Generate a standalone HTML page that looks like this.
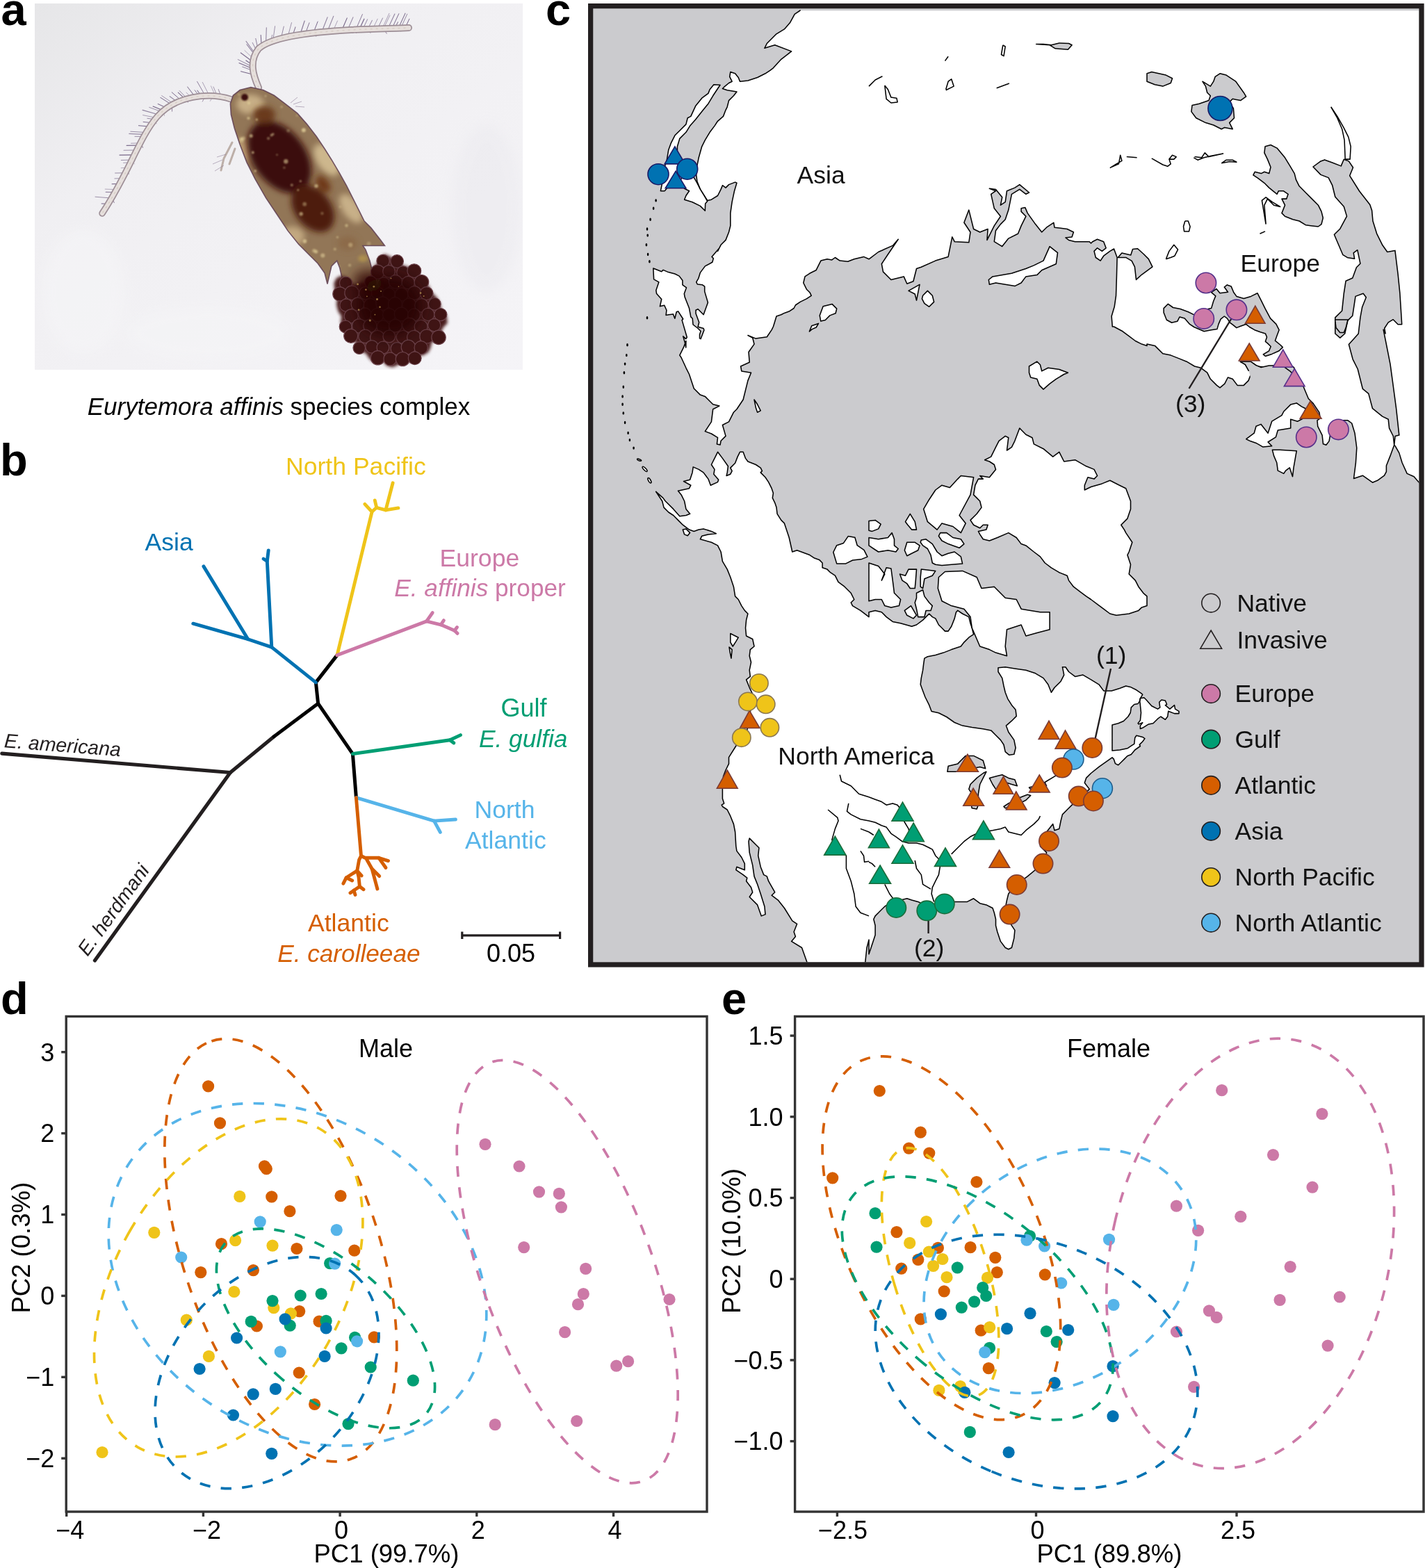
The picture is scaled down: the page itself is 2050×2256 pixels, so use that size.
<!DOCTYPE html>
<html><head><meta charset="utf-8"><title>Eurytemora affinis figure</title>
<style>html,body{margin:0;padding:0;background:#fff;}svg{display:block;}text{font-family:'Liberation Sans', Arial, Helvetica, sans-serif;}</style>
</head><body>
<svg xmlns="http://www.w3.org/2000/svg" width="2050" height="2256" viewBox="0 0 2050 2256">
<rect width="2050" height="2256" fill="#fff"/>
<defs>
<linearGradient id="pbg" x1="0" y1="0" x2="1" y2="1">
<stop offset="0" stop-color="#E6E6E8"/><stop offset="0.3" stop-color="#F0EFF2"/><stop offset="1" stop-color="#F5F4F7"/>
</linearGradient>
<filter id="bl1" x="-20%" y="-20%" width="140%" height="140%"><feGaussianBlur stdDeviation="1"/></filter>
<filter id="bl2" x="-30%" y="-30%" width="160%" height="160%"><feGaussianBlur stdDeviation="2.2"/></filter>
<filter id="bl4" x="-40%" y="-40%" width="180%" height="180%"><feGaussianBlur stdDeviation="4.5"/></filter>
<filter id="bl8" x="-50%" y="-50%" width="200%" height="200%"><feGaussianBlur stdDeviation="9"/></filter>
<clipPath id="bodyclip"><path d="M335.4 137.3 L331.4 149.1 L332.4 164.8 L337.3 184.5 L345.2 208.1 L355.0 233.6 L366.8 257.2 L382.5 284.7 L398.3 308.3 L414.0 331.9 L429.7 351.5 L445.4 367.2 L457.2 379.0 L467.0 392.8 L471.0 408.5 L476.9 383.0 L484.7 375.1 L488.6 384.9 L492.6 402.6 L498.5 414.4 L516.2 414.4 L531.9 406.5 L535.8 390.8 L531.9 375.1 L526.0 359.4 L522.0 353.5 L535.8 353.5 L553.5 353.5 L547.6 345.6 L533.8 327.9 L524.0 318.1 L516.2 302.4 L508.3 286.7 L498.5 267.0 L488.6 249.3 L476.9 229.7 L467.0 214.0 L455.2 196.3 L441.5 178.6 L427.7 162.9 L410.0 149.1 L394.3 137.3 L378.6 129.5 L360.9 125.5 L345.2 129.5 Z"/></clipPath>
<clipPath id="eggclip"><path d="M553.7 365.8 L563.3 370.0 L570.5 376.0 L580.1 382.0 L592.1 385.6 L600.5 392.8 L608.9 404.8 L617.3 412.1 L619.7 419.3 L628.1 427.7 L632.9 436.1 L635.3 448.1 L642.5 454.1 L643.7 464.9 L637.7 470.9 L635.3 475.7 L634.1 484.1 L628.1 490.1 L620.9 492.5 L619.7 499.7 L616.1 506.9 L607.7 511.7 L600.5 510.5 L596.9 516.5 L589.7 521.3 L580.1 518.9 L572.9 524.9 L564.5 528.5 L556.1 526.1 L550.1 518.9 L544.1 521.3 L535.7 520.1 L530.9 515.3 L526.1 508.1 L517.6 505.7 L512.8 499.7 L511.6 492.5 L505.6 486.5 L502.0 476.9 L493.6 472.1 L490.0 463.7 L491.2 455.3 L486.4 448.1 L484.0 438.5 L485.2 426.5 L481.6 419.3 L480.4 407.3 L484.0 400.0 L491.2 396.4 L498.4 398.8 L504.4 404.8 L510.4 409.7 L516.4 407.3 L521.2 406.1 L527.3 407.3 L532.1 406.1 L536.9 397.6 L535.7 390.4 L539.3 383.2 L544.1 377.2 L546.5 370.0 Z"/></clipPath>
<clipPath id="photoclip"><rect x="50" y="5" width="702" height="527"/></clipPath>
</defs>
<g clip-path="url(#photoclip)">
<rect x="50" y="5" width="702" height="527" fill="url(#pbg)"/>
<g filter="url(#bl8)" opacity="0.5"><ellipse cx="120" cy="420" rx="60" ry="90" fill="#F6F6F8"/><ellipse cx="700" cy="300" rx="50" ry="120" fill="#EAE9EE"/><ellipse cx="300" cy="480" rx="120" ry="40" fill="#F5F5F7"/></g>
<g fill="none"><path d="M317.5 137.2 L314.2 128.6" stroke="#5E4A72" stroke-width="1.03" stroke-linecap="round" opacity="0.58"/><path d="M311.9 136.5 L307.0 124.9" stroke="#5E4A72" stroke-width="0.73" stroke-linecap="round" opacity="0.73"/><path d="M309.0 136.2 L303.5 123.8" stroke="#5E4A72" stroke-width="0.73" stroke-linecap="round" opacity="0.58"/><path d="M300.2 135.9 L291.3 118.4" stroke="#5E4A72" stroke-width="0.76" stroke-linecap="round" opacity="0.63"/><path d="M294.3 136.0 L283.6 117.3" stroke="#5E4A72" stroke-width="0.99" stroke-linecap="round" opacity="0.69"/><path d="M288.4 136.4 L283.8 130.2" stroke="#5E4A72" stroke-width="1.13" stroke-linecap="round" opacity="0.65"/><path d="M285.4 136.7 L280.1 129.7" stroke="#5E4A72" stroke-width="0.85" stroke-linecap="round" opacity="0.84"/><path d="M279.4 137.6 L269.7 125.0" stroke="#5E4A72" stroke-width="1.02" stroke-linecap="round" opacity="0.68"/><path d="M273.5 138.8 L268.0 133.1" stroke="#5E4A72" stroke-width="0.73" stroke-linecap="round" opacity="0.62"/><path d="M267.7 140.3 L258.2 130.6" stroke="#5E4A72" stroke-width="0.86" stroke-linecap="round" opacity="0.75"/><path d="M264.8 141.2 L256.3 133.2" stroke="#5E4A72" stroke-width="1.10" stroke-linecap="round" opacity="0.79"/><path d="M259.1 143.2 L247.2 132.8" stroke="#5E4A72" stroke-width="0.96" stroke-linecap="round" opacity="0.86"/><path d="M253.5 145.5 L244.3 138.7" stroke="#5E4A72" stroke-width="1.19" stroke-linecap="round" opacity="0.59"/><path d="M248.1 148.1 L232.7 137.7" stroke="#5E4A72" stroke-width="0.78" stroke-linecap="round" opacity="0.72"/><path d="M245.4 149.6 L230.9 140.4" stroke="#5E4A72" stroke-width="1.08" stroke-linecap="round" opacity="0.75"/><path d="M237.9 154.5 L227.2 149.5" stroke="#5E4A72" stroke-width="1.05" stroke-linecap="round" opacity="0.76"/><path d="M233.1 158.2 L220.1 153.1" stroke="#5E4A72" stroke-width="1.12" stroke-linecap="round" opacity="0.88"/><path d="M230.8 160.2 L214.7 154.4" stroke="#5E4A72" stroke-width="0.73" stroke-linecap="round" opacity="0.80"/><path d="M226.5 164.5 L205.1 158.4" stroke="#5E4A72" stroke-width="1.11" stroke-linecap="round" opacity="0.65"/><path d="M222.5 169.0 L205.6 165.6" stroke="#5E4A72" stroke-width="0.71" stroke-linecap="round" opacity="0.71"/><path d="M220.6 171.5 L211.9 170.3" stroke="#5E4A72" stroke-width="0.73" stroke-linecap="round" opacity="0.82"/><path d="M216.8 176.5 L206.1 175.4" stroke="#5E4A72" stroke-width="0.90" stroke-linecap="round" opacity="0.85"/><path d="M213.2 181.9 L199.4 180.7" stroke="#5E4A72" stroke-width="0.97" stroke-linecap="round" opacity="0.86"/><path d="M208.0 190.4 L187.8 189.2" stroke="#5E4A72" stroke-width="0.84" stroke-linecap="round" opacity="0.70"/><path d="M206.3 193.4 L185.8 192.4" stroke="#5E4A72" stroke-width="1.18" stroke-linecap="round" opacity="0.60"/><path d="M204.6 196.4 L194.0 196.4" stroke="#5E4A72" stroke-width="0.82" stroke-linecap="round" opacity="0.72"/><path d="M199.5 205.9 L188.5 206.2" stroke="#5E4A72" stroke-width="0.70" stroke-linecap="round" opacity="0.70"/><path d="M197.8 209.2 L182.1 209.3" stroke="#5E4A72" stroke-width="1.18" stroke-linecap="round" opacity="0.79"/><path d="M194.4 216.0 L178.0 216.2" stroke="#5E4A72" stroke-width="1.04" stroke-linecap="round" opacity="0.57"/><path d="M191.0 222.9 L172.0 223.1" stroke="#5E4A72" stroke-width="1.14" stroke-linecap="round" opacity="0.83"/><path d="M187.4 230.1 L174.3 230.5" stroke="#5E4A72" stroke-width="0.75" stroke-linecap="round" opacity="0.77"/><path d="M185.6 233.8 L177.6 234.3" stroke="#5E4A72" stroke-width="0.80" stroke-linecap="round" opacity="0.61"/><path d="M181.9 241.2 L174.2 241.7" stroke="#5E4A72" stroke-width="0.70" stroke-linecap="round" opacity="0.60"/><path d="M178.1 248.8 L165.6 249.0" stroke="#5E4A72" stroke-width="0.71" stroke-linecap="round" opacity="0.86"/><path d="M174.1 256.6 L164.9 256.9" stroke="#5E4A72" stroke-width="0.83" stroke-linecap="round" opacity="0.67"/><path d="M170.0 264.5 L161.1 264.7" stroke="#5E4A72" stroke-width="1.12" stroke-linecap="round" opacity="0.90"/><path d="M165.6 272.6 L151.2 272.1" stroke="#5E4A72" stroke-width="0.74" stroke-linecap="round" opacity="0.59"/><path d="M163.3 276.6 L152.2 276.4" stroke="#5E4A72" stroke-width="1.11" stroke-linecap="round" opacity="0.61"/><path d="M158.5 284.9 L137.0 283.2" stroke="#5E4A72" stroke-width="0.96" stroke-linecap="round" opacity="0.60"/><path d="M153.5 293.2 L146.1 293.0" stroke="#5E4A72" stroke-width="0.96" stroke-linecap="round" opacity="0.89"/><path d="M305.9 140.0 L302.3 145.4" stroke="#8A7894" stroke-width="0.83" stroke-linecap="round" opacity="0.68"/><path d="M294.5 140.0 L291.3 146.0" stroke="#8A7894" stroke-width="0.97" stroke-linecap="round" opacity="0.82"/><path d="M271.6 143.4 L270.2 147.0" stroke="#8A7894" stroke-width="1.11" stroke-linecap="round" opacity="0.89"/><path d="M247.5 153.0 L247.5 160.1" stroke="#8A7894" stroke-width="1.11" stroke-linecap="round" opacity="0.81"/><path d="M235.7 161.2 L236.5 166.6" stroke="#8A7894" stroke-width="0.88" stroke-linecap="round" opacity="0.56"/><path d="M223.8 173.9 L225.0 177.9" stroke="#8A7894" stroke-width="0.83" stroke-linecap="round" opacity="0.79"/><path d="M203.1 207.8 L205.5 212.2" stroke="#8A7894" stroke-width="1.17" stroke-linecap="round" opacity="0.90"/><path d="M191.0 231.9 L193.3 235.9" stroke="#8A7894" stroke-width="0.81" stroke-linecap="round" opacity="0.63"/><path d="M183.6 246.8 L185.3 250.2" stroke="#8A7894" stroke-width="1.01" stroke-linecap="round" opacity="0.87"/><path d="M162.0 286.9 L164.3 291.6" stroke="#8A7894" stroke-width="1.03" stroke-linecap="round" opacity="0.83"/><path d="M363.2 107.0 L346.6 102.7" stroke="#5E4A72" stroke-width="1.15" stroke-linecap="round" opacity="0.82"/><path d="M362.1 101.1 L348.7 96.1" stroke="#5E4A72" stroke-width="0.79" stroke-linecap="round" opacity="0.83"/><path d="M361.8 98.1 L344.0 90.6" stroke="#5E4A72" stroke-width="1.19" stroke-linecap="round" opacity="0.69"/><path d="M361.6 95.2 L342.3 85.6" stroke="#5E4A72" stroke-width="1.06" stroke-linecap="round" opacity="0.61"/><path d="M361.7 92.2 L353.8 87.1" stroke="#5E4A72" stroke-width="1.15" stroke-linecap="round" opacity="0.83"/><path d="M362.1 87.7 L346.3 76.0" stroke="#5E4A72" stroke-width="1.19" stroke-linecap="round" opacity="0.78"/><path d="M363.1 83.2 L351.9 72.6" stroke="#5E4A72" stroke-width="0.77" stroke-linecap="round" opacity="0.55"/><path d="M365.2 77.4 L354.9 63.9" stroke="#5E4A72" stroke-width="0.96" stroke-linecap="round" opacity="0.88"/><path d="M365.9 75.9 L354.0 59.4" stroke="#5E4A72" stroke-width="1.11" stroke-linecap="round" opacity="0.62"/><path d="M368.4 71.6 L363.2 61.4" stroke="#5E4A72" stroke-width="0.82" stroke-linecap="round" opacity="0.76"/><path d="M370.7 68.5 L367.8 55.4" stroke="#5E4A72" stroke-width="0.77" stroke-linecap="round" opacity="0.87"/><path d="M376.1 64.4 L375.2 50.5" stroke="#5E4A72" stroke-width="0.99" stroke-linecap="round" opacity="0.87"/><path d="M382.6 60.9 L383.3 39.8" stroke="#5E4A72" stroke-width="0.95" stroke-linecap="round" opacity="0.74"/><path d="M390.1 57.7 L391.5 50.5" stroke="#5E4A72" stroke-width="0.92" stroke-linecap="round" opacity="0.61"/><path d="M392.9 56.7 L395.6 37.7" stroke="#5E4A72" stroke-width="0.79" stroke-linecap="round" opacity="0.72"/><path d="M404.7 53.2 L408.3 38.1" stroke="#5E4A72" stroke-width="0.86" stroke-linecap="round" opacity="0.73"/><path d="M414.5 50.9 L419.5 32.6" stroke="#5E4A72" stroke-width="0.75" stroke-linecap="round" opacity="0.75"/><path d="M421.5 49.5 L425.0 38.9" stroke="#5E4A72" stroke-width="1.09" stroke-linecap="round" opacity="0.73"/><path d="M432.4 47.7 L438.2 30.0" stroke="#5E4A72" stroke-width="1.16" stroke-linecap="round" opacity="0.71"/><path d="M439.9 46.6 L445.0 32.8" stroke="#5E4A72" stroke-width="0.96" stroke-linecap="round" opacity="0.79"/><path d="M451.6 45.2 L457.1 31.1" stroke="#5E4A72" stroke-width="0.94" stroke-linecap="round" opacity="0.88"/><path d="M463.6 44.0 L471.1 24.9" stroke="#5E4A72" stroke-width="1.17" stroke-linecap="round" opacity="0.64"/><path d="M471.8 43.2 L479.8 23.3" stroke="#5E4A72" stroke-width="1.12" stroke-linecap="round" opacity="0.60"/><path d="M480.0 42.6 L485.5 30.0" stroke="#5E4A72" stroke-width="0.74" stroke-linecap="round" opacity="0.63"/><path d="M492.5 41.7 L499.3 25.9" stroke="#5E4A72" stroke-width="1.09" stroke-linecap="round" opacity="0.86"/><path d="M500.8 41.2 L508.0 24.8" stroke="#5E4A72" stroke-width="1.03" stroke-linecap="round" opacity="0.60"/><path d="M512.7 40.6 L521.4 20.6" stroke="#5E4A72" stroke-width="0.81" stroke-linecap="round" opacity="0.88"/><path d="M517.8 40.3 L523.9 27.2" stroke="#5E4A72" stroke-width="1.19" stroke-linecap="round" opacity="0.84"/><path d="M522.8 40.1 L528.6 27.8" stroke="#5E4A72" stroke-width="0.96" stroke-linecap="round" opacity="0.67"/><path d="M530.1 39.8 L535.4 29.2" stroke="#5E4A72" stroke-width="1.06" stroke-linecap="round" opacity="0.56"/><path d="M537.2 39.6 L543.2 27.2" stroke="#5E4A72" stroke-width="0.71" stroke-linecap="round" opacity="0.67"/><path d="M544.1 39.4 L550.5 26.0" stroke="#5E4A72" stroke-width="0.73" stroke-linecap="round" opacity="0.89"/><path d="M550.7 39.2 L559.9 19.3" stroke="#5E4A72" stroke-width="0.75" stroke-linecap="round" opacity="0.64"/><path d="M552.8 39.1 L560.9 22.0" stroke="#5E4A72" stroke-width="0.84" stroke-linecap="round" opacity="0.60"/><path d="M559.0 39.0 L567.9 20.0" stroke="#5E4A72" stroke-width="1.11" stroke-linecap="round" opacity="0.64"/><path d="M564.9 38.8 L573.8 19.7" stroke="#5E4A72" stroke-width="0.99" stroke-linecap="round" opacity="0.80"/><path d="M568.7 38.7 L572.5 31.8" stroke="#5E4A72" stroke-width="1.04" stroke-linecap="round" opacity="0.70"/><path d="M574.0 38.6 L583.0 19.1" stroke="#5E4A72" stroke-width="1.02" stroke-linecap="round" opacity="0.83"/><path d="M577.4 38.5 L585.8 20.2" stroke="#5E4A72" stroke-width="0.73" stroke-linecap="round" opacity="0.85"/><path d="M583.7 38.2 L588.9 27.2" stroke="#5E4A72" stroke-width="0.98" stroke-linecap="round" opacity="0.87"/><path d="M366.8 104.7 L368.1 102.8" stroke="#8A7894" stroke-width="0.96" stroke-linecap="round" opacity="0.63"/><path d="M365.7 91.1 L367.7 89.6" stroke="#8A7894" stroke-width="0.73" stroke-linecap="round" opacity="0.62"/><path d="M370.9 75.2 L374.1 74.8" stroke="#8A7894" stroke-width="1.08" stroke-linecap="round" opacity="0.65"/><path d="M389.0 62.4 L391.3 63.6" stroke="#8A7894" stroke-width="0.87" stroke-linecap="round" opacity="0.56"/><path d="M415.3 54.8 L416.9 55.6" stroke="#8A7894" stroke-width="1.07" stroke-linecap="round" opacity="0.74"/><path d="M452.0 49.2 L454.8 52.3" stroke="#8A7894" stroke-width="1.17" stroke-linecap="round" opacity="0.59"/><path d="M510.3 44.7 L512.8 47.7" stroke="#8A7894" stroke-width="0.95" stroke-linecap="round" opacity="0.84"/><path d="M530.3 43.8 L532.9 47.3" stroke="#8A7894" stroke-width="1.04" stroke-linecap="round" opacity="0.89"/><path d="M552.9 43.1 L556.3 48.2" stroke="#8A7894" stroke-width="1.05" stroke-linecap="round" opacity="0.77"/><path d="M574.2 42.6 L576.4 45.2" stroke="#8A7894" stroke-width="0.73" stroke-linecap="round" opacity="0.60"/></g>
<path d="M333 143 C300 132 252 138 226 168 C200 198 185 250 147 307" fill="none" stroke="#9D8E96" stroke-width="9.5" stroke-linecap="round"/>
<path d="M333 143 C300 132 252 138 226 168 C200 198 185 250 147 307" fill="none" stroke="#E6DFDC" stroke-width="6.1" stroke-linecap="round"/>
<path d="M333 143 C300 132 252 138 226 168 C200 198 185 250 147 307" fill="none" stroke="#CFC3B8" stroke-width="1.2" stroke-dasharray="3 5" opacity="0.7"/>
<path d="M372 126 C364 108 358 88 372 70 C392 52 450 46 505 43 C540 41 570 41 588 40" fill="none" stroke="#9D8E96" stroke-width="10" stroke-linecap="round"/>
<path d="M372 126 C364 108 358 88 372 70 C392 52 450 46 505 43 C540 41 570 41 588 40" fill="none" stroke="#E6DFDC" stroke-width="6.6" stroke-linecap="round"/>
<path d="M372 126 C364 108 358 88 372 70 C392 52 450 46 505 43 C540 41 570 41 588 40" fill="none" stroke="#CFC3B8" stroke-width="1.2" stroke-dasharray="3 5" opacity="0.7"/>
<g stroke="#B4A49C" stroke-width="3" fill="none" stroke-linecap="round" opacity="0.85"><path d="M334 205 L322 228 L318 245"/><path d="M338 214 L330 236"/></g>
<g stroke="#8A7894" stroke-width="0.8" fill="none" opacity="0.7"><path d="M320 230 L306 236"/><path d="M322 238 L309 246"/><path d="M325 222 L312 226"/><path d="M418 148 L428 140"/><path d="M422 150 L434 146"/><path d="M425 153 L438 154"/></g>
<path d="M335.4 137.3 L331.4 149.1 L332.4 164.8 L337.3 184.5 L345.2 208.1 L355.0 233.6 L366.8 257.2 L382.5 284.7 L398.3 308.3 L414.0 331.9 L429.7 351.5 L445.4 367.2 L457.2 379.0 L467.0 392.8 L471.0 408.5 L476.9 383.0 L484.7 375.1 L488.6 384.9 L492.6 402.6 L498.5 414.4 L516.2 414.4 L531.9 406.5 L535.8 390.8 L531.9 375.1 L526.0 359.4 L522.0 353.5 L535.8 353.5 L553.5 353.5 L547.6 345.6 L533.8 327.9 L524.0 318.1 L516.2 302.4 L508.3 286.7 L498.5 267.0 L488.6 249.3 L476.9 229.7 L467.0 214.0 L455.2 196.3 L441.5 178.6 L427.7 162.9 L410.0 149.1 L394.3 137.3 L378.6 129.5 L360.9 125.5 L345.2 129.5 Z" fill="#927657"/>
<g clip-path="url(#bodyclip)">
<g filter="url(#bl4)"><ellipse cx="360" cy="150" rx="20" ry="14" fill="#C7AF86"/><ellipse cx="470" cy="230" rx="14" ry="26" transform="rotate(-35 470 230)" fill="#CDB78D"/><ellipse cx="505" cy="300" rx="12" ry="24" transform="rotate(-35 505 300)" fill="#C8B088"/><ellipse cx="420" cy="340" rx="18" ry="14" fill="#C2A880"/><ellipse cx="350" cy="215" rx="9" ry="18" transform="rotate(-25 350 215)" fill="#B99A70"/></g>
<g filter="url(#bl4)"><ellipse cx="402" cy="226" rx="38" ry="58" transform="rotate(-36 402 226)" fill="#3B0E07"/><ellipse cx="450" cy="300" rx="26" ry="38" transform="rotate(-38 450 300)" fill="#4E1C0C"/><ellipse cx="380" cy="165" rx="16" ry="12" fill="#6A3A1A"/><ellipse cx="465" cy="265" rx="8" ry="14" transform="rotate(-38 465 265)" fill="#6E3818"/><ellipse cx="500" cy="350" rx="14" ry="10" fill="#8C6A48"/></g>
<g filter="url(#bl1)"><circle cx="349.5" cy="322.6" r="1.7" fill="#E6D49C" opacity="0.37"/><circle cx="352.3" cy="348.7" r="2.9" fill="#E6D49C" opacity="0.60"/><circle cx="392.8" cy="193.0" r="1.8" fill="#E6D49C" opacity="0.51"/><circle cx="367.3" cy="245.9" r="1.7" fill="#E6D49C" opacity="0.73"/><circle cx="534.4" cy="272.2" r="1.7" fill="#E6D49C" opacity="0.73"/><circle cx="398.5" cy="222.7" r="1.2" fill="#E6D49C" opacity="0.47"/><circle cx="432.3" cy="260.7" r="1.6" fill="#E6D49C" opacity="0.53"/><circle cx="336.0" cy="198.7" r="1.4" fill="#E6D49C" opacity="0.48"/><circle cx="343.5" cy="135.8" r="1.8" fill="#E6D49C" opacity="0.40"/><circle cx="455.0" cy="267.6" r="2.7" fill="#E6D49C" opacity="0.60"/><circle cx="481.8" cy="358.6" r="2.0" fill="#E6D49C" opacity="0.45"/><circle cx="536.9" cy="168.9" r="2.6" fill="#E6D49C" opacity="0.59"/><circle cx="344.0" cy="347.2" r="3.0" fill="#E6D49C" opacity="0.58"/><circle cx="485.4" cy="341.2" r="1.5" fill="#E6D49C" opacity="0.54"/><circle cx="438.4" cy="347.1" r="2.8" fill="#E6D49C" opacity="0.67"/><circle cx="454.7" cy="362.1" r="2.6" fill="#E6D49C" opacity="0.61"/><circle cx="382.1" cy="138.1" r="1.5" fill="#E6D49C" opacity="0.46"/><circle cx="356.5" cy="347.3" r="2.3" fill="#E6D49C" opacity="0.58"/><circle cx="463.4" cy="307.0" r="2.2" fill="#E6D49C" opacity="0.30"/><circle cx="498.5" cy="324.5" r="2.2" fill="#E6D49C" opacity="0.54"/><circle cx="470.2" cy="147.2" r="2.7" fill="#E6D49C" opacity="0.41"/><circle cx="350.3" cy="199.0" r="2.7" fill="#E6D49C" opacity="0.39"/><circle cx="486.7" cy="383.7" r="2.2" fill="#E6D49C" opacity="0.47"/><circle cx="433.2" cy="307.8" r="2.7" fill="#E6D49C" opacity="0.58"/><circle cx="466.8" cy="150.1" r="1.5" fill="#E6D49C" opacity="0.41"/><circle cx="487.4" cy="209.1" r="2.3" fill="#E6D49C" opacity="0.31"/><circle cx="347.4" cy="199.9" r="2.5" fill="#E6D49C" opacity="0.61"/><circle cx="473.5" cy="205.6" r="2.2" fill="#E6D49C" opacity="0.51"/><circle cx="430.6" cy="160.8" r="3.0" fill="#E6D49C" opacity="0.39"/><circle cx="535.5" cy="373.4" r="1.2" fill="#E6D49C" opacity="0.51"/><circle cx="503.1" cy="381.7" r="2.1" fill="#E6D49C" opacity="0.42"/><circle cx="378.0" cy="375.9" r="1.6" fill="#E6D49C" opacity="0.56"/><circle cx="364.1" cy="266.3" r="3.1" fill="#E6D49C" opacity="0.36"/><circle cx="503.1" cy="262.3" r="3.0" fill="#E6D49C" opacity="0.62"/><circle cx="382.4" cy="363.4" r="2.2" fill="#E6D49C" opacity="0.31"/><circle cx="335.7" cy="257.8" r="2.1" fill="#E6D49C" opacity="0.44"/><circle cx="363.8" cy="219.4" r="1.8" fill="#E6D49C" opacity="0.68"/><circle cx="335.4" cy="325.2" r="2.9" fill="#E6D49C" opacity="0.35"/><circle cx="524.9" cy="315.4" r="3.0" fill="#E6D49C" opacity="0.43"/><circle cx="411.3" cy="232.2" r="3.2" fill="#E6D49C" opacity="0.57"/><circle cx="408.9" cy="241.3" r="1.8" fill="#E6D49C" opacity="0.32"/><circle cx="355.9" cy="347.0" r="1.8" fill="#E6D49C" opacity="0.72"/><circle cx="386.1" cy="199.1" r="2.2" fill="#E6D49C" opacity="0.39"/><circle cx="411.5" cy="378.6" r="3.0" fill="#E6D49C" opacity="0.67"/><circle cx="464.3" cy="367.5" r="3.1" fill="#E6D49C" opacity="0.55"/><circle cx="482.5" cy="142.9" r="2.7" fill="#E6D49C" opacity="0.50"/><circle cx="489.3" cy="297.6" r="1.8" fill="#E6D49C" opacity="0.32"/><circle cx="525.0" cy="163.1" r="2.1" fill="#E6D49C" opacity="0.45"/><circle cx="396.0" cy="322.1" r="3.2" fill="#E6D49C" opacity="0.42"/><circle cx="469.5" cy="208.2" r="2.3" fill="#E6D49C" opacity="0.48"/><circle cx="369.3" cy="172.0" r="1.6" fill="#E6D49C" opacity="0.71"/><circle cx="436.9" cy="187.2" r="3.0" fill="#E6D49C" opacity="0.75"/><circle cx="427.2" cy="166.3" r="1.6" fill="#E6D49C" opacity="0.34"/><circle cx="405.1" cy="153.7" r="1.7" fill="#E6D49C" opacity="0.42"/><circle cx="451.8" cy="360.7" r="2.7" fill="#E6D49C" opacity="0.49"/><circle cx="419.8" cy="266.3" r="2.0" fill="#E6D49C" opacity="0.45"/><circle cx="347.7" cy="202.2" r="3.1" fill="#E6D49C" opacity="0.36"/><circle cx="438.2" cy="293.7" r="2.9" fill="#E6D49C" opacity="0.40"/><circle cx="390.6" cy="194.6" r="2.0" fill="#E6D49C" opacity="0.50"/><circle cx="530.6" cy="350.7" r="2.9" fill="#E6D49C" opacity="0.31"/><circle cx="341.6" cy="314.5" r="3.0" fill="#E6D49C" opacity="0.51"/><circle cx="455.4" cy="130.0" r="2.0" fill="#E6D49C" opacity="0.72"/><circle cx="504.2" cy="352.4" r="3.1" fill="#E6D49C" opacity="0.41"/><circle cx="357.4" cy="170.1" r="2.2" fill="#E6D49C" opacity="0.61"/><circle cx="528.0" cy="317.7" r="2.5" fill="#E6D49C" opacity="0.64"/><circle cx="428.8" cy="273.4" r="1.3" fill="#E6D49C" opacity="0.65"/><circle cx="382.7" cy="369.2" r="2.5" fill="#E6D49C" opacity="0.44"/><circle cx="361.2" cy="195.5" r="2.5" fill="#E6D49C" opacity="0.61"/><circle cx="358.0" cy="148.3" r="2.2" fill="#E6D49C" opacity="0.56"/><circle cx="414.6" cy="188.1" r="2.4" fill="#E6D49C" opacity="0.30"/></g>
</g>
<path d="M335.4 137.3 L331.4 149.1 L332.4 164.8 L337.3 184.5 L345.2 208.1 L355.0 233.6 L366.8 257.2 L382.5 284.7 L398.3 308.3 L414.0 331.9 L429.7 351.5 L445.4 367.2 L457.2 379.0 L467.0 392.8 L471.0 408.5 L476.9 383.0 L484.7 375.1 L488.6 384.9 L492.6 402.6 L498.5 414.4 L516.2 414.4 L531.9 406.5 L535.8 390.8 L531.9 375.1 L526.0 359.4 L522.0 353.5 L535.8 353.5 L553.5 353.5 L547.6 345.6 L533.8 327.9 L524.0 318.1 L516.2 302.4 L508.3 286.7 L498.5 267.0 L488.6 249.3 L476.9 229.7 L467.0 214.0 L455.2 196.3 L441.5 178.6 L427.7 162.9 L410.0 149.1 L394.3 137.3 L378.6 129.5 L360.9 125.5 L345.2 129.5 Z" fill="none" stroke="#5F3E52" stroke-width="1.6" opacity="0.85"/>
<circle cx="352" cy="140" r="5" fill="#3A0E0C" filter="url(#bl1)"/>
<path d="M553.7 365.8 L563.3 370.0 L570.5 376.0 L580.1 382.0 L592.1 385.6 L600.5 392.8 L608.9 404.8 L617.3 412.1 L619.7 419.3 L628.1 427.7 L632.9 436.1 L635.3 448.1 L642.5 454.1 L643.7 464.9 L637.7 470.9 L635.3 475.7 L634.1 484.1 L628.1 490.1 L620.9 492.5 L619.7 499.7 L616.1 506.9 L607.7 511.7 L600.5 510.5 L596.9 516.5 L589.7 521.3 L580.1 518.9 L572.9 524.9 L564.5 528.5 L556.1 526.1 L550.1 518.9 L544.1 521.3 L535.7 520.1 L530.9 515.3 L526.1 508.1 L517.6 505.7 L512.8 499.7 L511.6 492.5 L505.6 486.5 L502.0 476.9 L493.6 472.1 L490.0 463.7 L491.2 455.3 L486.4 448.1 L484.0 438.5 L485.2 426.5 L481.6 419.3 L480.4 407.3 L484.0 400.0 L491.2 396.4 L498.4 398.8 L504.4 404.8 L510.4 409.7 L516.4 407.3 L521.2 406.1 L527.3 407.3 L532.1 406.1 L536.9 397.6 L535.7 390.4 L539.3 383.2 L544.1 377.2 L546.5 370.0 Z" fill="#4A1E1E" stroke="none" filter="url(#bl2)"/>
<g><circle cx="551.1" cy="375.5" r="9.2" fill="#3F1414" stroke="#6A4048" stroke-width="1.2"/><circle cx="571.1" cy="376.0" r="9.3" fill="#3F1414" stroke="#6A4048" stroke-width="1.2"/><circle cx="543.4" cy="391.1" r="10.0" fill="#3F1414" stroke="#6A4048" stroke-width="1.2"/><circle cx="559.5" cy="390.4" r="8.8" fill="#3F1414" stroke="#6A4048" stroke-width="1.2"/><circle cx="579.7" cy="391.8" r="9.0" fill="#3F1414" stroke="#6A4048" stroke-width="1.2"/><circle cx="595.8" cy="389.7" r="9.9" fill="#3F1414" stroke="#6A4048" stroke-width="1.2"/><circle cx="497.5" cy="407.3" r="9.1" fill="#3F1414" stroke="#6A4048" stroke-width="1.2"/><circle cx="533.4" cy="406.0" r="8.8" fill="#3F1414" stroke="#6A4048" stroke-width="1.2"/><circle cx="552.2" cy="408.0" r="8.8" fill="#3F1414" stroke="#6A4048" stroke-width="1.2"/><circle cx="568.9" cy="405.3" r="9.6" fill="#3F1414" stroke="#6A4048" stroke-width="1.2"/><circle cx="587.3" cy="406.5" r="9.2" fill="#3F1414" stroke="#6A4048" stroke-width="1.2"/><circle cx="606.4" cy="405.8" r="10.3" fill="#3F1414" stroke="#6A4048" stroke-width="1.2"/><circle cx="488.9" cy="423.0" r="10.1" fill="#3F1414" stroke="#6A4048" stroke-width="1.2"/><circle cx="506.1" cy="421.4" r="10.3" fill="#3F1414" stroke="#6A4048" stroke-width="1.2"/><circle cx="525.6" cy="421.8" r="9.1" fill="#3F1414" stroke="#6A4048" stroke-width="1.2"/><circle cx="543.2" cy="421.5" r="8.8" fill="#3F1414" stroke="#6A4048" stroke-width="1.2"/><circle cx="559.4" cy="423.1" r="8.9" fill="#3F1414" stroke="#6A4048" stroke-width="1.2"/><circle cx="577.7" cy="423.7" r="9.5" fill="#3F1414" stroke="#6A4048" stroke-width="1.2"/><circle cx="596.3" cy="421.4" r="9.8" fill="#3F1414" stroke="#6A4048" stroke-width="1.2"/><circle cx="613.6" cy="422.1" r="9.4" fill="#3F1414" stroke="#6A4048" stroke-width="1.2"/><circle cx="498.0" cy="439.2" r="9.1" fill="#3F1414" stroke="#6A4048" stroke-width="1.2"/><circle cx="514.5" cy="437.6" r="9.4" fill="#3F1414" stroke="#6A4048" stroke-width="1.2"/><circle cx="532.8" cy="439.3" r="9.7" fill="#3F1414" stroke="#6A4048" stroke-width="1.2"/><circle cx="550.6" cy="436.6" r="9.8" fill="#3F1414" stroke="#6A4048" stroke-width="1.2"/><circle cx="568.4" cy="437.6" r="9.9" fill="#3F1414" stroke="#6A4048" stroke-width="1.2"/><circle cx="589.0" cy="439.1" r="10.1" fill="#3F1414" stroke="#6A4048" stroke-width="1.2"/><circle cx="606.5" cy="439.4" r="9.8" fill="#3F1414" stroke="#6A4048" stroke-width="1.2"/><circle cx="625.2" cy="437.4" r="8.9" fill="#3F1414" stroke="#6A4048" stroke-width="1.2"/><circle cx="505.2" cy="454.8" r="10.0" fill="#3F1414" stroke="#6A4048" stroke-width="1.2"/><circle cx="524.9" cy="452.1" r="9.2" fill="#3F1414" stroke="#6A4048" stroke-width="1.2"/><circle cx="542.7" cy="453.1" r="9.6" fill="#3F1414" stroke="#6A4048" stroke-width="1.2"/><circle cx="559.9" cy="453.0" r="9.3" fill="#3F1414" stroke="#6A4048" stroke-width="1.2"/><circle cx="577.3" cy="452.0" r="9.9" fill="#3F1414" stroke="#6A4048" stroke-width="1.2"/><circle cx="595.7" cy="453.0" r="9.0" fill="#3F1414" stroke="#6A4048" stroke-width="1.2"/><circle cx="615.8" cy="452.4" r="9.1" fill="#3F1414" stroke="#6A4048" stroke-width="1.2"/><circle cx="633.8" cy="452.6" r="9.1" fill="#3F1414" stroke="#6A4048" stroke-width="1.2"/><circle cx="497.1" cy="470.0" r="8.9" fill="#3F1414" stroke="#6A4048" stroke-width="1.2"/><circle cx="516.6" cy="468.9" r="10.1" fill="#3F1414" stroke="#6A4048" stroke-width="1.2"/><circle cx="532.3" cy="469.0" r="9.6" fill="#3F1414" stroke="#6A4048" stroke-width="1.2"/><circle cx="551.3" cy="470.3" r="9.2" fill="#3F1414" stroke="#6A4048" stroke-width="1.2"/><circle cx="568.8" cy="468.7" r="9.3" fill="#3F1414" stroke="#6A4048" stroke-width="1.2"/><circle cx="589.0" cy="467.7" r="10.3" fill="#3F1414" stroke="#6A4048" stroke-width="1.2"/><circle cx="605.6" cy="470.0" r="9.5" fill="#3F1414" stroke="#6A4048" stroke-width="1.2"/><circle cx="624.7" cy="467.7" r="9.1" fill="#3F1414" stroke="#6A4048" stroke-width="1.2"/><circle cx="504.7" cy="483.3" r="10.0" fill="#3F1414" stroke="#6A4048" stroke-width="1.2"/><circle cx="525.4" cy="483.9" r="9.7" fill="#3F1414" stroke="#6A4048" stroke-width="1.2"/><circle cx="542.9" cy="485.8" r="10.3" fill="#3F1414" stroke="#6A4048" stroke-width="1.2"/><circle cx="559.8" cy="484.0" r="8.9" fill="#3F1414" stroke="#6A4048" stroke-width="1.2"/><circle cx="579.7" cy="485.0" r="9.5" fill="#3F1414" stroke="#6A4048" stroke-width="1.2"/><circle cx="595.6" cy="485.3" r="10.0" fill="#3F1414" stroke="#6A4048" stroke-width="1.2"/><circle cx="613.8" cy="484.0" r="10.0" fill="#3F1414" stroke="#6A4048" stroke-width="1.2"/><circle cx="631.0" cy="485.4" r="10.2" fill="#3F1414" stroke="#6A4048" stroke-width="1.2"/><circle cx="516.8" cy="500.6" r="8.8" fill="#3F1414" stroke="#6A4048" stroke-width="1.2"/><circle cx="535.0" cy="498.8" r="9.2" fill="#3F1414" stroke="#6A4048" stroke-width="1.2"/><circle cx="550.9" cy="500.1" r="8.9" fill="#3F1414" stroke="#6A4048" stroke-width="1.2"/><circle cx="571.1" cy="501.6" r="9.0" fill="#3F1414" stroke="#6A4048" stroke-width="1.2"/><circle cx="587.5" cy="499.5" r="10.3" fill="#3F1414" stroke="#6A4048" stroke-width="1.2"/><circle cx="605.6" cy="500.2" r="9.6" fill="#3F1414" stroke="#6A4048" stroke-width="1.2"/><circle cx="543.5" cy="514.8" r="10.2" fill="#3F1414" stroke="#6A4048" stroke-width="1.2"/><circle cx="561.2" cy="516.5" r="9.3" fill="#3F1414" stroke="#6A4048" stroke-width="1.2"/><circle cx="579.3" cy="516.6" r="10.1" fill="#3F1414" stroke="#6A4048" stroke-width="1.2"/><circle cx="596.7" cy="515.3" r="9.4" fill="#3F1414" stroke="#6A4048" stroke-width="1.2"/></g>
<g filter="url(#bl8)"><ellipse cx="560" cy="440" rx="48" ry="44" fill="#260605" opacity="0.85"/><ellipse cx="530" cy="405" rx="22" ry="16" fill="#2A0807" opacity="0.8"/></g>
<g><circle cx="532.3" cy="461.1" r="1.6" fill="#D8B860" opacity="0.6"/><circle cx="516.1" cy="445.7" r="1.3" fill="#D8B860" opacity="0.6"/><circle cx="527.9" cy="426.3" r="0.9" fill="#D8B860" opacity="0.6"/><circle cx="526.4" cy="416.7" r="1.3" fill="#D8B860" opacity="0.6"/><circle cx="573.4" cy="412.3" r="0.8" fill="#D8B860" opacity="0.6"/><circle cx="539.4" cy="452.7" r="0.9" fill="#D8B860" opacity="0.6"/><circle cx="537.8" cy="412.3" r="1.4" fill="#D8B860" opacity="0.6"/><circle cx="562.5" cy="400.4" r="0.9" fill="#D8B860" opacity="0.6"/><circle cx="546.5" cy="441.8" r="1.3" fill="#D8B860" opacity="0.6"/><circle cx="514.6" cy="408.9" r="1.4" fill="#D8B860" opacity="0.6"/><circle cx="548.0" cy="419.1" r="1.0" fill="#D8B860" opacity="0.6"/><circle cx="605.1" cy="421.6" r="1.3" fill="#D8B860" opacity="0.6"/><circle cx="542.5" cy="430.4" r="1.5" fill="#D8B860" opacity="0.6"/><circle cx="609.6" cy="425.9" r="1.0" fill="#D8B860" opacity="0.6"/></g>
<ellipse cx="522" cy="372" rx="7" ry="5" fill="#C8A848" opacity="0.5" filter="url(#bl2)"/>
</g>
<text x="401" y="597" font-size="35" text-anchor="middle"><tspan font-style="italic">Eurytemora affinis</tspan> species complex</text>
<g fill="none" stroke-linecap="round" stroke-linejoin="round">
<path d="M2.8 1084.2 L331.3 1111.5" stroke="#231F20" stroke-width="5.2"/>
<path d="M136.4 1381.9 L331.3 1111.5" stroke="#231F20" stroke-width="5.2"/>
<path d="M331.3 1111.5 L394.1 1059.7" stroke="#231F20" stroke-width="5.2"/>
<path d="M394.1 1059.7 L457.6 1012.2 L454.4 981.9 L485.0 942.6" stroke="#000" stroke-width="5.0"/>
<path d="M457.6 1012.2 L507.4 1084.6 L512.4 1147.7" stroke="#000" stroke-width="5.0"/>
<path d="M454.4 981.9 L390.8 931.1 L356.8 919.7 L277.8 897.2" stroke="#0072B2" stroke-width="4.9"/>
<path d="M356.8 919.7 L292.9 814.9" stroke="#0072B2" stroke-width="4.9"/>
<path d="M390.8 931.1 L384.3 807.5 L386.2 791.9" stroke="#0072B2" stroke-width="4.9"/>
<path d="M384.3 807.5 L379.0 804.0" stroke="#0072B2" stroke-width="4.9"/>
<path d="M485.0 942.6 L535.1 736.3 L524.9 725.4" stroke="#EFC419" stroke-width="4.9"/>
<path d="M535.1 736.3 L541.7 730.3 L554.9 733.9 L572.9 730.9" stroke="#EFC419" stroke-width="4.9"/>
<path d="M541.7 730.3 L539.3 720.0" stroke="#EFC419" stroke-width="4.9"/>
<path d="M554.9 733.9 L565.1 694.8" stroke="#EFC419" stroke-width="4.9"/>
<path d="M485.0 942.6 L613.6 893.9 L634.2 898.8 L653.9 907.2 L658.0 911.3" stroke="#CC79A7" stroke-width="4.9"/>
<path d="M613.6 893.9 L622.2 881.6" stroke="#CC79A7" stroke-width="4.9"/>
<path d="M634.2 898.8 L638.4 892.7" stroke="#CC79A7" stroke-width="4.9"/>
<path d="M653.9 907.2 L657.5 902.5" stroke="#CC79A7" stroke-width="4.9"/>
<path d="M507.4 1084.6 L647.2 1064.7 L662.5 1057.6" stroke="#009E73" stroke-width="4.9"/>
<path d="M647.2 1064.7 L652.9 1069.0" stroke="#009E73" stroke-width="4.9"/>
<path d="M512.4 1147.7 L624.5 1181.1 L655.4 1179.0" stroke="#56B4E9" stroke-width="4.9"/>
<path d="M624.5 1181.1 L633.3 1197.4" stroke="#56B4E9" stroke-width="4.9"/>
<path d="M512.4 1147.7 L519.5 1231.5" stroke="#D55E00" stroke-width="4.9"/>
<path d="M519.5 1231.5 L525.2 1234.3 L545.0 1234.3 L558.5 1238.6" stroke="#D55E00" stroke-width="4.9"/>
<path d="M545.0 1234.3 L555.0 1248.5" stroke="#D55E00" stroke-width="4.9"/>
<path d="M527.5 1236.5 L535.1 1250.0 L545.7 1260.6" stroke="#D55E00" stroke-width="4.9"/>
<path d="M535.1 1250.0 L542.9 1279.0" stroke="#D55E00" stroke-width="4.9"/>
<path d="M519.5 1231.5 L516.6 1237.1 L513.8 1252.8 L520.2 1259.9" stroke="#D55E00" stroke-width="4.9"/>
<path d="M513.8 1252.8 L498.2 1262.7 L493.9 1271.2" stroke="#D55E00" stroke-width="4.9"/>
<path d="M498.2 1262.7 L506.7 1267.0" stroke="#D55E00" stroke-width="4.9"/>
<path d="M513.8 1252.8 L516.0 1262.0 L517.4 1275.5 L523.0 1279.7" stroke="#D55E00" stroke-width="4.9"/>
<path d="M517.4 1275.5 L503.9 1284.7" stroke="#D55E00" stroke-width="4.9"/>
<path d="M509.0 1281.0 L511.0 1287.5" stroke="#D55E00" stroke-width="4.9"/>
</g>
<path d="M664.8 1345.8 H805.6 M664.8 1340.5 V1351.1 M805.6 1340.5 V1351.1" stroke="#231F20" stroke-width="3.2" fill="none"/>
<text x="411" y="682.9" font-size="35.6" fill="#EFC419" text-anchor="start" >North Pacific</text>
<text x="208.6" y="792" font-size="35.6" fill="#0072B2" text-anchor="start" >Asia</text>
<text x="632.5" y="815.1" font-size="35.6" fill="#CC79A7" text-anchor="start" >Europe</text>
<text x="567.3" y="858" font-size="35.2" fill="#CC79A7" text-anchor="start" ><tspan font-style="italic">E. affinis</tspan> proper</text>
<text x="720.5" y="1030.5" font-size="36" fill="#009E73" text-anchor="start" >Gulf</text>
<text x="688.9" y="1074.5" font-size="35.3" fill="#009E73" text-anchor="start" ><tspan font-style="italic">E. gulfia</tspan></text>
<text x="682.5" y="1177" font-size="35.6" fill="#56B4E9" text-anchor="start" >North</text>
<text x="669" y="1220.5" font-size="35.6" fill="#56B4E9" text-anchor="start" >Atlantic</text>
<text x="443" y="1340" font-size="35.6" fill="#D55E00" text-anchor="start" >Atlantic</text>
<text x="399.2" y="1383.5" font-size="35.2" fill="#D55E00" text-anchor="start" ><tspan font-style="italic">E. carolleeae</tspan></text>
<text x="700" y="1383.5" font-size="36" fill="#000" text-anchor="start" >0.05</text>
<text font-size="28.5" font-style="italic" fill="#231F20" transform="translate(5.6 1075.3) rotate(4.4)">E. americana</text>
<text font-size="28.5" font-style="italic" fill="#231F20" transform="translate(126 1377) rotate(-54.2)">E. herdmani</text>
<clipPath id="mapclip"><rect x="853.2" y="12.1" width="1188.2" height="1372.1000000000001"/></clipPath>
<rect x="853.2" y="12.1" width="1188.2" height="1372.1000000000001" fill="#CBCBCE"/>
<g clip-path="url(#mapclip)" stroke="#000" stroke-width="1.55" stroke-linejoin="round">
<path d="M1151.2 15.3 L1151.2 15.0 L1143.2 20.3 L1136.4 32.8 L1128.4 41.9 L1117.0 48.8 L1103.3 62.5 L1099.9 69.3 L1114.7 64.8 L1138.6 73.9 L1123.8 85.3 L1112.4 97.8 L1107.8 101.3 L1101.0 105.8 L1089.6 111.5 L1075.9 116.1 L1064.5 117.2 L1062.2 111.5 L1057.6 105.8 L1050.8 103.6 L1049.7 110.4 L1053.1 117.2 L1048.5 119.5 L1041.7 125.2 L1039.4 127.5 L1046.2 129.8 L1059.9 132.1 L1055.4 137.8 L1048.5 144.6 L1046.2 153.8 L1044.0 158.3 L1040.5 167.4 L1032.5 174.3 L1028.0 181.1 L1021.1 190.3 L1014.3 201.7 L1009.7 210.8 L1005.2 226.8 L1002.9 238.2 L1001.7 251.9 L1002.9 261.0 L1007.4 272.4 L1013.1 281.5 L1017.7 288.4 L1023.4 287.2 L1032.5 281.5 L1037.1 272.4 L1039.4 266.7 L1044.0 270.1 L1048.5 265.6 L1057.6 262.1 L1059.9 263.3 L1056.5 274.7 L1053.1 290.7 L1050.8 306.6 L1050.8 324.9 L1048.5 334.0 L1044.0 345.4 L1037.1 352.3 L1032.5 361.4 L1034.3 357.5 L1024.0 369.4 L1026.3 371.7 L1024.8 377.3 L1014.4 382.9 L1007.3 392.4 L1004.9 400.3 L1001.7 405.9 L1003.3 409.0 L1010.5 409.8 L1013.7 412.2 L1013.7 419.4 L1018.4 435.2 L1012.1 452.7 L1004.1 444.8 L1001.0 446.3 L1001.0 451.1 L1005.7 463.8 L1004.1 470.2 L1012.1 472.5 L1012.9 474.9 L1008.1 487.6 L1006.5 486.8 L1006.5 481.3 L1008.1 476.5 L1004.1 472.5 L997.0 467.0 L996.2 458.3 L993.8 455.9 L991.4 443.2 L985.1 427.3 L984.3 422.5 L987.5 413.8 L981.9 409.8 L981.9 403.5 L977.1 397.1 L970.8 394.0 L961.3 391.6 L954.1 388.4 L951.7 390.8 L939.8 386.0 L940.6 401.9 L947.8 405.9 L943.8 417.8 L944.6 422.5 L951.7 430.5 L949.4 440.8 L955.7 439.2 L958.9 446.3 L958.1 453.5 L962.1 452.7 L968.4 451.9 L970.8 458.3 L973.2 448.7 L975.6 447.9 L982.7 459.0 L981.1 460.6 L988.3 485.2 L986.7 487.6 L982.7 483.7 L985.9 494.8 L986.7 500.0 L986.9 490.5 L983.5 499.7 L977.8 511.1 L980.1 514.5 L986.9 529.3 L991.5 538.5 L998.3 559.0 L1007.4 568.1 L1014.3 570.4 L1018.9 575.0 L1025.7 581.8 L1034.8 584.1 L1025.7 588.7 L1023.4 606.9 L1014.3 620.6 L1023.4 624.0 L1032.5 629.7 L1031.4 638.9 L1036.0 640.0 L1037.1 634.3 L1044.0 627.4 L1039.4 611.5 L1048.5 606.9 L1055.4 593.2 L1059.9 588.7 L1069.1 575.0 L1075.9 547.6 L1080.5 536.2 L1066.8 533.9 L1065.6 527.0 L1078.2 521.3 L1077.0 506.5 L1085.0 495.1 L1082.7 486.0 L1075.9 482.5 L1087.3 487.1 L1103.3 484.8 L1110.1 474.6 L1112.4 470.0 L1112.4 470.0 L1113.5 466.4 L1117.0 455.0 L1123.8 452.7 L1128.4 450.4 L1135.2 448.1 L1142.1 443.5 L1144.4 439.0 L1151.2 434.4 L1160.3 429.9 L1167.2 425.3 L1164.9 420.7 L1160.3 416.2 L1155.8 407.0 L1158.0 397.9 L1164.9 393.3 L1174.0 388.8 L1178.6 379.7 L1180.9 375.1 L1190.0 372.8 L1196.8 373.9 L1201.4 370.5 L1208.2 375.1 L1219.7 376.2 L1228.8 372.8 L1242.5 369.4 L1250.0 372.8 L1250.0 372.8 L1263.7 362.5 L1284.2 353.4 L1292.2 344.3 L1277.4 366.0 L1268.3 379.7 L1270.5 391.1 L1281.9 402.5 L1300.2 397.9 L1304.8 408.2 L1313.9 404.8 L1318.5 386.5 L1325.3 384.2 L1345.8 375.1 L1364.1 369.4 L1369.8 340.9 L1373.2 347.7 L1393.8 348.8 L1396.0 334.0 L1386.9 320.3 L1393.8 302.1 L1400.6 329.5 L1409.7 334.0 L1421.1 329.5 L1420.0 345.4 L1430.3 324.9 L1439.4 311.2 L1430.3 299.8 L1425.7 279.3 L1432.5 274.7 L1423.4 271.3 L1432.5 272.4 L1441.7 283.8 L1439.4 295.2 L1446.2 290.7 L1448.5 274.7 L1459.9 270.1 L1466.8 265.6 L1480.5 277.0 L1475.9 279.3 L1466.8 272.4 L1455.4 279.3 L1450.8 302.1 L1446.2 315.8 L1439.4 322.6 L1432.5 331.7 L1430.3 347.7 L1441.7 354.6 L1450.8 343.1 L1464.5 336.3 L1469.1 324.9 L1475.9 311.2 L1469.1 304.4 L1469.1 299.8 L1474.8 298.6 L1478.2 306.6 L1489.6 322.6 L1498.7 334.0 L1505.6 327.2 L1515.8 320.3 L1517.0 327.2 L1535.2 329.5 L1544.4 334.0 L1542.1 340.9 L1532.9 342.0 L1537.5 345.4 L1546.6 347.7 L1567.2 347.7 L1569.5 350.0 L1571.7 347.7 L1578.6 344.3 L1587.7 347.7 L1591.1 356.8 L1585.4 361.4 L1578.6 356.8 L1574.0 361.4 L1576.3 370.5 L1583.1 375.1 L1587.7 368.2 L1596.8 361.4 L1602.5 358.0 L1607.1 370.5 L1606.4 397.9 L1605.5 425.3 L1603.2 441.3 L1599.1 455.0 L1600.3 470.0 L1602.5 470.0 L1615.1 476.8 L1624.2 483.7 L1633.3 490.5 L1642.5 495.1 L1650.0 497.4 L1650.0 495.1 L1661.4 497.4 L1672.8 508.8 L1684.2 511.1 L1695.6 515.6 L1707.0 520.2 L1718.5 527.0 L1727.6 529.3 L1736.7 536.2 L1741.3 545.3 L1750.4 554.4 L1755.0 557.8 L1761.8 552.1 L1766.4 543.0 L1773.2 545.3 L1780.1 554.4 L1789.2 554.4 L1796.0 547.6 L1799.5 538.5 L1809.7 527.0 L1823.4 529.3 L1832.5 525.9 L1846.2 520.2 L1861.0 528.1 L1875.2 556.5 L1882.3 573.5 L1889.3 580.6 L1897.9 593.4 L1899.3 601.9 L1895.0 604.8 L1895.7 613.3 L1902.1 626.1 L1903.5 638.8 L1907.8 640.2 L1912.1 634.6 L1913.5 626.1 L1917.7 617.5 L1924.8 607.6 L1931.9 604.8 L1939.0 604.8 L1944.7 609.0 L1949.0 623.2 L1951.8 644.5 L1950.4 665.8 L1947.5 688.5 L1960.3 684.2 L1974.5 694.2 L1981.6 691.3 L1991.5 684.2 L1994.4 678.6 L1994.4 670.0 L2000.0 655.9 L2005.7 640.2 L2007.1 641.7 L2012.8 651.6 L2017.1 665.8 L2024.2 681.4 L2034.1 685.7 L2042.6 695.6 L2043.4 695.6 L2043.4 15.3 Z" fill="#fff" stroke="none"/>
<path d="M1151.2 15.3 L1151.2 15.0 L1143.2 20.3 L1136.4 32.8 L1128.4 41.9 L1117.0 48.8 L1103.3 62.5 L1099.9 69.3 L1114.7 64.8 L1138.6 73.9 L1123.8 85.3 L1112.4 97.8 L1107.8 101.3 L1101.0 105.8 L1089.6 111.5 L1075.9 116.1 L1064.5 117.2 L1062.2 111.5 L1057.6 105.8 L1050.8 103.6 L1049.7 110.4 L1053.1 117.2 L1048.5 119.5 L1041.7 125.2 L1039.4 127.5 L1046.2 129.8 L1059.9 132.1 L1055.4 137.8 L1048.5 144.6 L1046.2 153.8 L1044.0 158.3 L1040.5 167.4 L1032.5 174.3 L1028.0 181.1 L1021.1 190.3 L1014.3 201.7 L1009.7 210.8 L1005.2 226.8 L1002.9 238.2 L1001.7 251.9 L1002.9 261.0 L1007.4 272.4 L1013.1 281.5 L1017.7 288.4 L1023.4 287.2 L1032.5 281.5 L1037.1 272.4 L1039.4 266.7 L1044.0 270.1 L1048.5 265.6 L1057.6 262.1 L1059.9 263.3 L1056.5 274.7 L1053.1 290.7 L1050.8 306.6 L1050.8 324.9 L1048.5 334.0 L1044.0 345.4 L1037.1 352.3 L1032.5 361.4 L1034.3 357.5 L1024.0 369.4 L1026.3 371.7 L1024.8 377.3 L1014.4 382.9 L1007.3 392.4 L1004.9 400.3 L1001.7 405.9 L1003.3 409.0 L1010.5 409.8 L1013.7 412.2 L1013.7 419.4 L1018.4 435.2 L1012.1 452.7 L1004.1 444.8 L1001.0 446.3 L1001.0 451.1 L1005.7 463.8 L1004.1 470.2 L1012.1 472.5 L1012.9 474.9 L1008.1 487.6 L1006.5 486.8 L1006.5 481.3 L1008.1 476.5 L1004.1 472.5 L997.0 467.0 L996.2 458.3 L993.8 455.9 L991.4 443.2 L985.1 427.3 L984.3 422.5 L987.5 413.8 L981.9 409.8 L981.9 403.5 L977.1 397.1 L970.8 394.0 L961.3 391.6 L954.1 388.4 L951.7 390.8 L939.8 386.0 L940.6 401.9 L947.8 405.9 L943.8 417.8 L944.6 422.5 L951.7 430.5 L949.4 440.8 L955.7 439.2 L958.9 446.3 L958.1 453.5 L962.1 452.7 L968.4 451.9 L970.8 458.3 L973.2 448.7 L975.6 447.9 L982.7 459.0 L981.1 460.6 L988.3 485.2 L986.7 487.6 L982.7 483.7 L985.9 494.8 L986.7 500.0 L986.9 490.5 L983.5 499.7 L977.8 511.1 L980.1 514.5 L986.9 529.3 L991.5 538.5 L998.3 559.0 L1007.4 568.1 L1014.3 570.4 L1018.9 575.0 L1025.7 581.8 L1034.8 584.1 L1025.7 588.7 L1023.4 606.9 L1014.3 620.6 L1023.4 624.0 L1032.5 629.7 L1031.4 638.9 L1036.0 640.0 L1037.1 634.3 L1044.0 627.4 L1039.4 611.5 L1048.5 606.9 L1055.4 593.2 L1059.9 588.7 L1069.1 575.0 L1075.9 547.6 L1080.5 536.2 L1066.8 533.9 L1065.6 527.0 L1078.2 521.3 L1077.0 506.5 L1085.0 495.1 L1082.7 486.0 L1075.9 482.5 L1087.3 487.1 L1103.3 484.8 L1110.1 474.6 L1112.4 470.0 L1112.4 470.0 L1113.5 466.4 L1117.0 455.0 L1123.8 452.7 L1128.4 450.4 L1135.2 448.1 L1142.1 443.5 L1144.4 439.0 L1151.2 434.4 L1160.3 429.9 L1167.2 425.3 L1164.9 420.7 L1160.3 416.2 L1155.8 407.0 L1158.0 397.9 L1164.9 393.3 L1174.0 388.8 L1178.6 379.7 L1180.9 375.1 L1190.0 372.8 L1196.8 373.9 L1201.4 370.5 L1208.2 375.1 L1219.7 376.2 L1228.8 372.8 L1242.5 369.4 L1250.0 372.8 L1250.0 372.8 L1263.7 362.5 L1284.2 353.4 L1292.2 344.3 L1277.4 366.0 L1268.3 379.7 L1270.5 391.1 L1281.9 402.5 L1300.2 397.9 L1304.8 408.2 L1313.9 404.8 L1318.5 386.5 L1325.3 384.2 L1345.8 375.1 L1364.1 369.4 L1369.8 340.9 L1373.2 347.7 L1393.8 348.8 L1396.0 334.0 L1386.9 320.3 L1393.8 302.1 L1400.6 329.5 L1409.7 334.0 L1421.1 329.5 L1420.0 345.4 L1430.3 324.9 L1439.4 311.2 L1430.3 299.8 L1425.7 279.3 L1432.5 274.7 L1423.4 271.3 L1432.5 272.4 L1441.7 283.8 L1439.4 295.2 L1446.2 290.7 L1448.5 274.7 L1459.9 270.1 L1466.8 265.6 L1480.5 277.0 L1475.9 279.3 L1466.8 272.4 L1455.4 279.3 L1450.8 302.1 L1446.2 315.8 L1439.4 322.6 L1432.5 331.7 L1430.3 347.7 L1441.7 354.6 L1450.8 343.1 L1464.5 336.3 L1469.1 324.9 L1475.9 311.2 L1469.1 304.4 L1469.1 299.8 L1474.8 298.6 L1478.2 306.6 L1489.6 322.6 L1498.7 334.0 L1505.6 327.2 L1515.8 320.3 L1517.0 327.2 L1535.2 329.5 L1544.4 334.0 L1542.1 340.9 L1532.9 342.0 L1537.5 345.4 L1546.6 347.7 L1567.2 347.7 L1569.5 350.0 L1571.7 347.7 L1578.6 344.3 L1587.7 347.7 L1591.1 356.8 L1585.4 361.4 L1578.6 356.8 L1574.0 361.4 L1576.3 370.5 L1583.1 375.1 L1587.7 368.2 L1596.8 361.4 L1602.5 358.0 L1607.1 370.5 L1606.4 397.9 L1605.5 425.3 L1603.2 441.3 L1599.1 455.0 L1600.3 470.0 L1602.5 470.0 L1615.1 476.8 L1624.2 483.7 L1633.3 490.5 L1642.5 495.1 L1650.0 497.4 L1650.0 495.1 L1661.4 497.4 L1672.8 508.8 L1684.2 511.1 L1695.6 515.6 L1707.0 520.2 L1718.5 527.0 L1727.6 529.3 L1736.7 536.2 L1741.3 545.3 L1750.4 554.4 L1755.0 557.8 L1761.8 552.1 L1766.4 543.0 L1773.2 545.3 L1780.1 554.4 L1789.2 554.4 L1796.0 547.6 L1799.5 538.5 L1809.7 527.0 L1823.4 529.3 L1832.5 525.9 L1846.2 520.2 L1861.0 528.1 L1875.2 556.5 L1882.3 573.5 L1889.3 580.6 L1897.9 593.4 L1899.3 601.9 L1895.0 604.8 L1895.7 613.3 L1902.1 626.1 L1903.5 638.8 L1907.8 640.2 L1912.1 634.6 L1913.5 626.1 L1917.7 617.5 L1924.8 607.6 L1931.9 604.8 L1939.0 604.8 L1944.7 609.0 L1949.0 623.2 L1951.8 644.5 L1950.4 665.8 L1947.5 688.5 L1960.3 684.2 L1974.5 694.2 L1981.6 691.3 L1991.5 684.2 L1994.4 678.6 L1994.4 670.0 L2000.0 655.9 L2005.7 640.2 L2007.1 641.7 L2012.8 651.6 L2017.1 665.8 L2024.2 681.4 L2034.1 685.7 L2042.6 695.6 L2043.4 695.6 L2043.4 15.3" fill="none"/>
<path d="M943.6 707.3 L953.8 716.4 L957.2 721.0 L968.7 732.4 L977.8 742.7 L986.9 741.5 L992.6 739.3 L986.9 732.4 L984.6 721.0 L980.1 711.9 L975.5 706.2 L991.5 702.7 L993.8 698.2 L983.5 692.5 L992.6 690.2 L996.0 679.9 L997.2 671.9 L1005.2 675.4 L1012.0 679.9 L1018.9 689.1 L1022.3 698.2 L1032.5 693.6 L1033.7 690.2 L1026.8 682.2 L1028.0 675.4 L1023.4 668.5 L1028.0 659.4 L1032.5 650.3 L1039.4 659.4 L1047.4 670.8 L1046.2 679.9 L1045.1 684.5 L1050.8 682.2 L1053.1 677.6 L1050.8 673.1 L1057.6 666.2 L1061.1 657.1 L1064.5 650.3 L1069.1 650.3 L1072.5 659.4 L1075.9 664.0 L1087.3 668.5 L1094.2 673.1 L1096.4 677.6 L1094.2 679.9 L1101.0 686.8 L1105.6 693.6 L1110.1 702.7 L1112.4 709.6 L1111.3 716.4 L1114.7 723.3 L1117.0 730.1 L1118.1 739.3 L1123.8 748.4 L1128.4 752.9 L1135.2 773.5 L1139.8 794.0 L1146.6 791.7 L1164.9 798.6 L1171.7 803.1 L1178.6 805.4 L1183.1 810.0 L1183.1 816.8 L1190.0 819.1 L1194.6 823.7 L1201.4 828.2 L1206.0 837.4 L1215.1 844.2 L1224.2 853.3 L1228.8 862.5 L1224.2 867.0 L1226.5 871.6 L1237.9 878.4 L1250.0 887.6 L1250.0 880.7 L1259.1 878.4 L1268.3 880.7 L1275.1 887.6 L1284.2 894.4 L1295.6 896.7 L1311.6 901.3 L1318.5 899.0 L1327.6 892.1 L1332.1 887.6 L1336.7 883.0 L1341.3 887.6 L1345.8 889.9 L1350.4 899.0 L1355.0 903.5 L1359.5 908.1 L1364.1 908.1 L1368.7 901.3 L1373.2 889.9 L1375.5 880.7 L1377.8 878.4 L1384.6 883.0 L1393.8 887.6 L1396.0 896.7 L1398.3 903.5 L1400.6 912.7 L1393.8 917.2 L1386.9 924.1 L1382.3 930.0 L1382.3 930.0 L1368.7 934.6 L1357.2 939.1 L1345.8 942.5 L1334.4 944.8 L1329.9 947.1 L1328.7 955.1 L1327.6 964.2 L1325.3 975.6 L1324.2 984.8 L1327.6 993.9 L1331.0 1003.0 L1336.7 1014.4 L1340.1 1023.6 L1350.4 1025.8 L1361.8 1031.5 L1373.2 1039.5 L1384.6 1044.1 L1398.3 1046.4 L1414.3 1048.7 L1425.7 1050.9 L1432.5 1057.8 L1439.4 1064.6 L1444.0 1071.5 L1446.2 1081.7 L1451.9 1086.3 L1458.8 1085.2 L1461.1 1076.0 L1458.8 1064.6 L1450.8 1053.2 L1447.4 1044.1 L1455.4 1037.2 L1462.2 1030.4 L1461.1 1021.3 L1455.4 1014.4 L1449.7 1005.3 L1446.2 996.2 L1444.0 987.0 L1441.7 975.6 L1436.0 966.5 L1436.0 960.8 L1446.2 959.7 L1459.9 961.9 L1475.9 964.2 L1489.6 968.8 L1501.0 975.6 L1507.8 984.8 L1512.4 996.2 L1517.0 989.3 L1526.1 980.2 L1530.7 971.1 L1528.4 959.7 L1532.9 959.7 L1537.5 966.5 L1546.6 973.4 L1558.0 971.1 L1569.5 977.9 L1580.9 984.8 L1587.7 993.9 L1599.1 993.9 L1610.5 990.5 L1619.7 987.0 L1626.2 988.4 L1634.9 992.8 L1642.6 998.2 L1643.7 999.3 L1640.4 1004.8 L1639.3 1009.1 L1637.1 1012.4 L1631.7 1013.5 L1627.3 1017.9 L1626.2 1025.5 L1622.9 1031.0 L1616.4 1037.5 L1608.7 1040.8 L1600.0 1043.0 L1600.0 1080.1 L1610.9 1079.0 L1621.8 1076.8 L1628.4 1072.4 L1631.7 1070.3 L1632.7 1061.5 L1634.9 1058.3 L1643.7 1060.4 L1646.9 1062.6 L1643.7 1067.0 L1639.3 1071.4 L1640.4 1073.5 L1632.7 1079.0 L1627.3 1085.5 L1621.8 1087.7 L1617.5 1092.1 L1613.1 1096.5 L1608.7 1100.8 L1604.4 1098.6 L1602.2 1092.1 L1600.0 1089.9 L1580.9 1103.4 L1569.5 1112.5 L1562.6 1119.4 L1560.3 1126.2 L1567.2 1135.4 L1553.5 1149.1 L1544.4 1155.9 L1535.2 1165.0 L1528.4 1171.9 L1526.1 1181.0 L1523.8 1192.4 L1517.0 1194.7 L1514.7 1185.6 L1505.6 1197.0 L1501.0 1208.4 L1496.4 1217.5 L1505.6 1226.6 L1503.3 1235.8 L1491.9 1249.5 L1478.2 1260.9 L1469.1 1267.7 L1457.6 1276.8 L1450.8 1286.0 L1448.5 1295.1 L1446.2 1306.5 L1450.8 1322.5 L1455.4 1331.6 L1459.9 1338.4 L1458.8 1349.9 L1455.4 1363.5 L1450.8 1365.8 L1446.2 1363.5 L1439.4 1354.4 L1434.8 1340.7 L1432.5 1331.6 L1432.5 1322.5 L1430.3 1313.3 L1428.0 1306.5 L1423.4 1304.2 L1418.9 1301.9 L1409.7 1299.7 L1400.6 1292.8 L1391.5 1297.4 L1382.3 1297.4 L1373.2 1297.4 L1364.1 1297.4 L1357.2 1299.7 L1350.4 1301.9 L1343.6 1300.8 L1336.7 1304.2 L1327.6 1300.8 L1320.7 1297.4 L1311.6 1295.1 L1304.8 1292.8 L1295.6 1295.1 L1288.8 1297.4 L1279.7 1299.7 L1272.8 1304.2 L1263.7 1313.3 L1259.1 1317.9 L1256.8 1322.5 L1259.1 1331.6 L1259.1 1345.3 L1254.6 1359.0 L1250.0 1372.7 L1250.0 1352.1 L1247.0 1363.5 L1244.8 1384.1 L1244.8 1386.2 L1160.8 1386.2 L1160.8 1384.1 L1153.5 1363.5 L1138.6 1354.4 L1144.4 1347.6 L1142.1 1340.7 L1146.6 1329.3 L1139.8 1324.8 L1128.4 1306.5 L1119.3 1295.1 L1110.1 1288.2 L1114.7 1283.7 L1105.6 1267.7 L1103.3 1260.9 L1098.7 1258.6 L1094.2 1247.2 L1090.7 1231.2 L1091.9 1219.8 L1087.3 1215.2 L1078.2 1206.1 L1077.0 1210.7 L1078.2 1226.6 L1082.7 1244.9 L1085.0 1260.9 L1089.6 1272.3 L1094.2 1286.0 L1099.9 1304.2 L1101.0 1315.6 L1095.3 1317.9 L1089.6 1301.9 L1078.2 1290.5 L1082.7 1283.7 L1080.5 1276.8 L1073.6 1267.7 L1074.8 1263.1 L1069.1 1258.6 L1058.8 1251.7 L1059.9 1247.2 L1071.3 1251.7 L1071.3 1242.6 L1066.8 1233.5 L1059.9 1224.4 L1058.8 1217.5 L1057.6 1197.0 L1055.4 1185.6 L1050.8 1174.2 L1046.2 1165.0 L1039.4 1160.5 L1038.2 1158.2 L1041.7 1155.9 L1039.4 1149.1 L1039.4 1139.9 L1039.4 1130.8 L1040.5 1117.1 L1044.0 1108.0 L1048.5 1098.9 L1048.5 1089.7 L1059.9 1071.5 L1069.1 1062.3 L1074.8 1050.9 L1078.2 1032.7 L1080.5 1016.7 L1082.7 998.5 L1078.2 989.3 L1073.6 977.9 L1079.3 973.4 L1078.2 964.2 L1080.5 952.8 L1078.2 943.7 L1079.3 934.6 L1085.0 930.0 L1085.0 930.0 L1082.7 919.5 L1073.6 915.0 L1072.5 903.5 L1073.6 892.1 L1075.9 883.0 L1071.3 878.4 L1066.8 871.6 L1062.2 862.5 L1057.6 857.9 L1055.4 844.2 L1050.8 830.5 L1046.2 819.1 L1039.4 807.7 L1037.1 794.0 L1032.5 784.9 L1023.4 780.3 L1007.4 775.8 L1009.7 771.2 L1018.9 768.9 L1030.3 767.8 L1023.4 764.4 L1012.0 760.9 L1005.2 762.1 L998.3 764.4 L991.5 762.1 L982.3 755.2 L975.5 748.4 L968.7 741.5 L961.8 737.0 L955.0 730.1 L952.7 721.0 L943.6 707.3 Z" fill="#fff" stroke="none"/>
<path d="M943.6 707.3 L953.8 716.4 L957.2 721.0 L968.7 732.4 L977.8 742.7 L986.9 741.5 L992.6 739.3 L986.9 732.4 L984.6 721.0 L980.1 711.9 L975.5 706.2 L991.5 702.7 L993.8 698.2 L983.5 692.5 L992.6 690.2 L996.0 679.9 L997.2 671.9 L1005.2 675.4 L1012.0 679.9 L1018.9 689.1 L1022.3 698.2 L1032.5 693.6 L1033.7 690.2 L1026.8 682.2 L1028.0 675.4 L1023.4 668.5 L1028.0 659.4 L1032.5 650.3 L1039.4 659.4 L1047.4 670.8 L1046.2 679.9 L1045.1 684.5 L1050.8 682.2 L1053.1 677.6 L1050.8 673.1 L1057.6 666.2 L1061.1 657.1 L1064.5 650.3 L1069.1 650.3 L1072.5 659.4 L1075.9 664.0 L1087.3 668.5 L1094.2 673.1 L1096.4 677.6 L1094.2 679.9 L1101.0 686.8 L1105.6 693.6 L1110.1 702.7 L1112.4 709.6 L1111.3 716.4 L1114.7 723.3 L1117.0 730.1 L1118.1 739.3 L1123.8 748.4 L1128.4 752.9 L1135.2 773.5 L1139.8 794.0 L1146.6 791.7 L1164.9 798.6 L1171.7 803.1 L1178.6 805.4 L1183.1 810.0 L1183.1 816.8 L1190.0 819.1 L1194.6 823.7 L1201.4 828.2 L1206.0 837.4 L1215.1 844.2 L1224.2 853.3 L1228.8 862.5 L1224.2 867.0 L1226.5 871.6 L1237.9 878.4 L1250.0 887.6 L1250.0 880.7 L1259.1 878.4 L1268.3 880.7 L1275.1 887.6 L1284.2 894.4 L1295.6 896.7 L1311.6 901.3 L1318.5 899.0 L1327.6 892.1 L1332.1 887.6 L1336.7 883.0 L1341.3 887.6 L1345.8 889.9 L1350.4 899.0 L1355.0 903.5 L1359.5 908.1 L1364.1 908.1 L1368.7 901.3 L1373.2 889.9 L1375.5 880.7 L1377.8 878.4 L1384.6 883.0 L1393.8 887.6 L1396.0 896.7 L1398.3 903.5 L1400.6 912.7 L1393.8 917.2 L1386.9 924.1 L1382.3 930.0 L1382.3 930.0 L1368.7 934.6 L1357.2 939.1 L1345.8 942.5 L1334.4 944.8 L1329.9 947.1 L1328.7 955.1 L1327.6 964.2 L1325.3 975.6 L1324.2 984.8 L1327.6 993.9 L1331.0 1003.0 L1336.7 1014.4 L1340.1 1023.6 L1350.4 1025.8 L1361.8 1031.5 L1373.2 1039.5 L1384.6 1044.1 L1398.3 1046.4 L1414.3 1048.7 L1425.7 1050.9 L1432.5 1057.8 L1439.4 1064.6 L1444.0 1071.5 L1446.2 1081.7 L1451.9 1086.3 L1458.8 1085.2 L1461.1 1076.0 L1458.8 1064.6 L1450.8 1053.2 L1447.4 1044.1 L1455.4 1037.2 L1462.2 1030.4 L1461.1 1021.3 L1455.4 1014.4 L1449.7 1005.3 L1446.2 996.2 L1444.0 987.0 L1441.7 975.6 L1436.0 966.5 L1436.0 960.8 L1446.2 959.7 L1459.9 961.9 L1475.9 964.2 L1489.6 968.8 L1501.0 975.6 L1507.8 984.8 L1512.4 996.2 L1517.0 989.3 L1526.1 980.2 L1530.7 971.1 L1528.4 959.7 L1532.9 959.7 L1537.5 966.5 L1546.6 973.4 L1558.0 971.1 L1569.5 977.9 L1580.9 984.8 L1587.7 993.9 L1599.1 993.9 L1610.5 990.5 L1619.7 987.0 L1626.2 988.4 L1634.9 992.8 L1642.6 998.2 L1643.7 999.3 L1640.4 1004.8 L1639.3 1009.1 L1637.1 1012.4 L1631.7 1013.5 L1627.3 1017.9 L1626.2 1025.5 L1622.9 1031.0 L1616.4 1037.5 L1608.7 1040.8 L1600.0 1043.0 L1600.0 1080.1 L1610.9 1079.0 L1621.8 1076.8 L1628.4 1072.4 L1631.7 1070.3 L1632.7 1061.5 L1634.9 1058.3 L1643.7 1060.4 L1646.9 1062.6 L1643.7 1067.0 L1639.3 1071.4 L1640.4 1073.5 L1632.7 1079.0 L1627.3 1085.5 L1621.8 1087.7 L1617.5 1092.1 L1613.1 1096.5 L1608.7 1100.8 L1604.4 1098.6 L1602.2 1092.1 L1600.0 1089.9 L1580.9 1103.4 L1569.5 1112.5 L1562.6 1119.4 L1560.3 1126.2 L1567.2 1135.4 L1553.5 1149.1 L1544.4 1155.9 L1535.2 1165.0 L1528.4 1171.9 L1526.1 1181.0 L1523.8 1192.4 L1517.0 1194.7 L1514.7 1185.6 L1505.6 1197.0 L1501.0 1208.4 L1496.4 1217.5 L1505.6 1226.6 L1503.3 1235.8 L1491.9 1249.5 L1478.2 1260.9 L1469.1 1267.7 L1457.6 1276.8 L1450.8 1286.0 L1448.5 1295.1 L1446.2 1306.5 L1450.8 1322.5 L1455.4 1331.6 L1459.9 1338.4 L1458.8 1349.9 L1455.4 1363.5 L1450.8 1365.8 L1446.2 1363.5 L1439.4 1354.4 L1434.8 1340.7 L1432.5 1331.6 L1432.5 1322.5 L1430.3 1313.3 L1428.0 1306.5 L1423.4 1304.2 L1418.9 1301.9 L1409.7 1299.7 L1400.6 1292.8 L1391.5 1297.4 L1382.3 1297.4 L1373.2 1297.4 L1364.1 1297.4 L1357.2 1299.7 L1350.4 1301.9 L1343.6 1300.8 L1336.7 1304.2 L1327.6 1300.8 L1320.7 1297.4 L1311.6 1295.1 L1304.8 1292.8 L1295.6 1295.1 L1288.8 1297.4 L1279.7 1299.7 L1272.8 1304.2 L1263.7 1313.3 L1259.1 1317.9 L1256.8 1322.5 L1259.1 1331.6 L1259.1 1345.3 L1254.6 1359.0 L1250.0 1372.7 L1250.0 1352.1 L1247.0 1363.5 L1244.8 1384.1 L1244.8 1386.2 L1160.8 1386.2 L1160.8 1384.1 L1153.5 1363.5 L1138.6 1354.4 L1144.4 1347.6 L1142.1 1340.7 L1146.6 1329.3 L1139.8 1324.8 L1128.4 1306.5 L1119.3 1295.1 L1110.1 1288.2 L1114.7 1283.7 L1105.6 1267.7 L1103.3 1260.9 L1098.7 1258.6 L1094.2 1247.2 L1090.7 1231.2 L1091.9 1219.8 L1087.3 1215.2 L1078.2 1206.1 L1077.0 1210.7 L1078.2 1226.6 L1082.7 1244.9 L1085.0 1260.9 L1089.6 1272.3 L1094.2 1286.0 L1099.9 1304.2 L1101.0 1315.6 L1095.3 1317.9 L1089.6 1301.9 L1078.2 1290.5 L1082.7 1283.7 L1080.5 1276.8 L1073.6 1267.7 L1074.8 1263.1 L1069.1 1258.6 L1058.8 1251.7 L1059.9 1247.2 L1071.3 1251.7 L1071.3 1242.6 L1066.8 1233.5 L1059.9 1224.4 L1058.8 1217.5 L1057.6 1197.0 L1055.4 1185.6 L1050.8 1174.2 L1046.2 1165.0 L1039.4 1160.5 L1038.2 1158.2 L1041.7 1155.9 L1039.4 1149.1 L1039.4 1139.9 L1039.4 1130.8 L1040.5 1117.1 L1044.0 1108.0 L1048.5 1098.9 L1048.5 1089.7 L1059.9 1071.5 L1069.1 1062.3 L1074.8 1050.9 L1078.2 1032.7 L1080.5 1016.7 L1082.7 998.5 L1078.2 989.3 L1073.6 977.9 L1079.3 973.4 L1078.2 964.2 L1080.5 952.8 L1078.2 943.7 L1079.3 934.6 L1085.0 930.0 L1085.0 930.0 L1082.7 919.5 L1073.6 915.0 L1072.5 903.5 L1073.6 892.1 L1075.9 883.0 L1071.3 878.4 L1066.8 871.6 L1062.2 862.5 L1057.6 857.9 L1055.4 844.2 L1050.8 830.5 L1046.2 819.1 L1039.4 807.7 L1037.1 794.0 L1032.5 784.9 L1023.4 780.3 L1007.4 775.8 L1009.7 771.2 L1018.9 768.9 L1030.3 767.8 L1023.4 764.4 L1012.0 760.9 L1005.2 762.1 L998.3 764.4 L991.5 762.1 L982.3 755.2 L975.5 748.4 L968.7 741.5 L961.8 737.0 L955.0 730.1 L952.7 721.0 L943.6 707.3 Z" fill="none"/>
<path d="M1466.8 616.0 L1475.9 625.2 L1485.0 629.7 L1487.3 638.9 L1501.0 645.7 L1514.7 657.1 L1523.8 650.3 L1530.7 664.0 L1546.6 661.7 L1562.6 670.8 L1574.0 675.4 L1578.6 684.5 L1574.0 689.1 L1564.9 686.8 L1560.3 698.2 L1560.3 705.0 L1569.5 700.5 L1585.4 695.9 L1596.8 691.3 L1610.5 698.2 L1619.7 702.7 L1626.5 721.0 L1626.5 732.4 L1621.9 746.1 L1612.8 755.2 L1617.4 762.1 L1619.7 766.6 L1628.8 780.3 L1624.2 794.0 L1621.9 798.6 L1626.5 812.3 L1624.2 826.0 L1633.3 835.1 L1637.9 844.2 L1644.8 853.3 L1650.0 857.9 L1650.0 871.6 L1642.5 873.9 L1637.9 878.4 L1624.2 883.0 L1606.0 885.3 L1596.8 883.0 L1587.7 876.2 L1578.6 869.3 L1569.5 862.5 L1562.6 857.9 L1553.5 851.1 L1544.4 844.2 L1537.5 835.1 L1535.2 828.2 L1523.8 823.7 L1512.4 816.8 L1503.3 810.0 L1496.4 800.9 L1487.3 794.0 L1475.9 784.9 L1469.1 782.6 L1462.2 773.5 L1450.8 766.6 L1434.8 773.5 L1423.4 778.0 L1414.3 775.8 L1409.7 768.9 L1407.4 764.4 L1418.9 762.1 L1421.1 755.2 L1414.3 755.2 L1409.7 759.8 L1400.6 755.2 L1396.0 748.4 L1405.2 739.3 L1412.0 730.1 L1409.7 721.0 L1405.2 716.4 L1400.6 711.9 L1402.9 698.2 L1407.4 689.1 L1414.3 689.1 L1409.7 684.5 L1423.4 686.8 L1432.5 675.4 L1430.3 668.5 L1423.4 664.0 L1416.6 661.7 L1425.7 657.1 L1432.5 643.4 L1437.1 634.3 L1446.2 627.4 L1450.8 629.7 L1448.5 648.0 L1455.4 643.4 L1459.9 634.3 L1466.8 616.0 Z" fill="#fff" stroke="none"/>
<path d="M1466.8 616.0 L1475.9 625.2 L1485.0 629.7 L1487.3 638.9 L1501.0 645.7 L1514.7 657.1 L1523.8 650.3 L1530.7 664.0 L1546.6 661.7 L1562.6 670.8 L1574.0 675.4 L1578.6 684.5 L1574.0 689.1 L1564.9 686.8 L1560.3 698.2 L1560.3 705.0 L1569.5 700.5 L1585.4 695.9 L1596.8 691.3 L1610.5 698.2 L1619.7 702.7 L1626.5 721.0 L1626.5 732.4 L1621.9 746.1 L1612.8 755.2 L1617.4 762.1 L1619.7 766.6 L1628.8 780.3 L1624.2 794.0 L1621.9 798.6 L1626.5 812.3 L1624.2 826.0 L1633.3 835.1 L1637.9 844.2 L1644.8 853.3 L1650.0 857.9 L1650.0 871.6 L1642.5 873.9 L1637.9 878.4 L1624.2 883.0 L1606.0 885.3 L1596.8 883.0 L1587.7 876.2 L1578.6 869.3 L1569.5 862.5 L1562.6 857.9 L1553.5 851.1 L1544.4 844.2 L1537.5 835.1 L1535.2 828.2 L1523.8 823.7 L1512.4 816.8 L1503.3 810.0 L1496.4 800.9 L1487.3 794.0 L1475.9 784.9 L1469.1 782.6 L1462.2 773.5 L1450.8 766.6 L1434.8 773.5 L1423.4 778.0 L1414.3 775.8 L1409.7 768.9 L1407.4 764.4 L1418.9 762.1 L1421.1 755.2 L1414.3 755.2 L1409.7 759.8 L1400.6 755.2 L1396.0 748.4 L1405.2 739.3 L1412.0 730.1 L1409.7 721.0 L1405.2 716.4 L1400.6 711.9 L1402.9 698.2 L1407.4 689.1 L1414.3 689.1 L1409.7 684.5 L1423.4 686.8 L1432.5 675.4 L1430.3 668.5 L1423.4 664.0 L1416.6 661.7 L1425.7 657.1 L1432.5 643.4 L1437.1 634.3 L1446.2 627.4 L1450.8 629.7 L1448.5 648.0 L1455.4 643.4 L1459.9 634.3 L1466.8 616.0 Z" fill="none"/>
<path d="M1640.4 1004.8 L1645.8 1003.7 L1649.1 1007.0 L1656.8 1015.7 L1665.5 1020.1 L1668.8 1017.9 L1667.7 1010.2 L1670.9 1007.0 L1676.4 1008.0 L1678.6 1013.5 L1676.4 1014.6 L1682.9 1020.1 L1689.5 1014.6 L1690.6 1020.1 L1696.0 1023.3 L1696.0 1026.6 L1689.5 1026.6 L1680.8 1023.3 L1679.7 1031.0 L1676.4 1035.3 L1669.8 1031.0 L1665.5 1034.2 L1658.9 1040.8 L1652.4 1041.9 L1643.7 1047.3 L1640.4 1048.4 L1640.4 1044.1 L1643.7 1039.7 L1638.2 1041.9 L1637.1 1040.8 L1640.4 1036.4 L1641.5 1025.5 L1640.4 1014.6 L1639.8 1009.1 Z" fill="#fff" stroke="none"/>
<path d="M1640.4 1004.8 L1645.8 1003.7 L1649.1 1007.0 L1656.8 1015.7 L1665.5 1020.1 L1668.8 1017.9 L1667.7 1010.2 L1670.9 1007.0 L1676.4 1008.0 L1678.6 1013.5 L1676.4 1014.6 L1682.9 1020.1 L1689.5 1014.6 L1690.6 1020.1 L1696.0 1023.3 L1696.0 1026.6 L1689.5 1026.6 L1680.8 1023.3 L1679.7 1031.0 L1676.4 1035.3 L1669.8 1031.0 L1665.5 1034.2 L1658.9 1040.8 L1652.4 1041.9 L1643.7 1047.3 L1640.4 1048.4 L1640.4 1044.1 L1643.7 1039.7 L1638.2 1041.9 L1637.1 1040.8 L1640.4 1036.4 L1641.5 1025.5 L1640.4 1014.6 L1639.8 1009.1 Z" fill="none"/>
<path d="M1036.0 122.3 L1026.8 121.8 L1021.1 128.7 L1018.9 134.4 L1009.7 141.2 L1000.6 152.6 L993.8 167.4 L989.2 169.7 L986.9 178.9 L977.8 188.0 L970.9 194.8 L965.2 206.2 L961.8 215.4 L959.5 229.1 L956.8 238.2 L955.0 251.9 L950.4 274.7 L956.1 274.7 L964.1 265.6 L970.9 256.4 L974.4 249.6 L977.8 242.7 L976.6 233.6 L974.4 224.5 L974.4 210.8 L977.8 199.4 L986.9 190.3 L992.6 181.1 L1000.6 172.0 L1009.7 160.6 L1018.9 149.2 L1025.7 137.8 L1036.0 122.3 Z" fill="#fff" stroke="none"/>
<path d="M1036.0 122.3 L1026.8 121.8 L1021.1 128.7 L1018.9 134.4 L1009.7 141.2 L1000.6 152.6 L993.8 167.4 L989.2 169.7 L986.9 178.9 L977.8 188.0 L970.9 194.8 L965.2 206.2 L961.8 215.4 L959.5 229.1 L956.8 238.2 L955.0 251.9 L950.4 274.7 L956.1 274.7 L964.1 265.6 L970.9 256.4 L974.4 249.6 L977.8 242.7 L976.6 233.6 L974.4 224.5 L974.4 210.8 L977.8 199.4 L986.9 190.3 L992.6 181.1 L1000.6 172.0 L1009.7 160.6 L1018.9 149.2 L1025.7 137.8 L1036.0 122.3 Z" fill="none"/>
<path d="M977.8 263.3 L984.6 271.3 L991.5 274.7 L986.9 281.5 L984.6 287.2 L996.0 290.7 L1007.4 296.4 L1014.3 303.2 L1014.7 292.9 L1017.7 289.5 L1013.1 281.5 L1007.4 272.4 L1002.9 263.3 L998.3 255.3 L991.5 249.6 L984.6 251.9 L978.9 258.7 Z" fill="#fff" stroke="none"/>
<path d="M977.8 263.3 L984.6 271.3 L991.5 274.7 L986.9 281.5 L984.6 287.2 L996.0 290.7 L1007.4 296.4 L1014.3 303.2 L1014.7 292.9 L1017.7 289.5 L1013.1 281.5 L1007.4 272.4 L1002.9 263.3 L998.3 255.3 L991.5 249.6 L984.6 251.9 L978.9 258.7 Z" fill="none"/>
<path d="M982.3 762.1 L986.9 760.9 L992.6 766.6 L989.2 770.7 L984.6 768.9 Z" fill="#fff" stroke="none"/>
<path d="M982.3 762.1 L986.9 760.9 L992.6 766.6 L989.2 770.7 L984.6 768.9 Z" fill="none"/>
<path d="M1085.0 575.0 L1089.6 581.8 L1094.2 590.9 L1089.6 593.2 L1087.3 586.4 Z" fill="#fff" stroke="none"/>
<path d="M1085.0 575.0 L1089.6 581.8 L1094.2 590.9 L1089.6 593.2 L1087.3 586.4 Z" fill="none"/>
<path d="M1050.8 911.5 L1062.2 917.2 L1058.8 922.9 L1054.2 930.0 L1050.8 924.1 Z" fill="#fff" stroke="none"/>
<path d="M1050.8 911.5 L1062.2 917.2 L1058.8 922.9 L1054.2 930.0 L1050.8 924.1 Z" fill="none"/>
<path d="M1049.0 931.1 L1053.1 934.6 L1051.9 947.1 L1050.3 939.1 Z" fill="#fff" stroke="none"/>
<path d="M1049.0 931.1 L1053.1 934.6 L1051.9 947.1 L1050.3 939.1 Z" fill="none"/>
<path d="M1422.3 402.5 L1428.0 397.9 L1455.4 393.3 L1475.9 386.5 L1487.3 381.9 L1501.0 375.1 L1510.1 354.6 L1521.5 363.7 L1519.3 379.7 L1498.7 388.8 L1491.9 395.6 L1475.9 397.9 L1469.1 407.0 L1459.9 411.6 L1446.2 409.3 L1432.5 407.0 L1423.4 409.3 Z" fill="#fff" stroke="none"/>
<path d="M1422.3 402.5 L1428.0 397.9 L1455.4 393.3 L1475.9 386.5 L1487.3 381.9 L1501.0 375.1 L1510.1 354.6 L1521.5 363.7 L1519.3 379.7 L1498.7 388.8 L1491.9 395.6 L1475.9 397.9 L1469.1 407.0 L1459.9 411.6 L1446.2 409.3 L1432.5 407.0 L1423.4 409.3 Z" fill="none"/>
<path d="M1307.0 418.4 L1323.0 409.3 L1318.5 432.1 L1316.2 423.0 Z" fill="#fff" stroke="none"/>
<path d="M1307.0 418.4 L1323.0 409.3 L1318.5 432.1 L1316.2 423.0 Z" fill="none"/>
<path d="M1327.6 425.3 L1334.4 418.4 L1341.3 425.3 L1343.6 434.4 L1336.7 441.3 L1329.9 436.7 L1326.4 429.9 Z" fill="#fff" stroke="none"/>
<path d="M1327.6 425.3 L1334.4 418.4 L1341.3 425.3 L1343.6 434.4 L1336.7 441.3 L1329.9 436.7 L1326.4 429.9 Z" fill="none"/>
<path d="M1480.5 527.0 L1491.9 520.2 L1496.4 524.8 L1498.7 533.9 L1507.8 529.3 L1523.8 531.6 L1536.4 536.2 L1530.7 538.5 L1519.3 545.3 L1510.1 552.1 L1501.0 560.1 L1495.3 554.4 L1491.9 545.3 L1482.7 543.0 L1480.5 536.2 Z" fill="#fff" stroke="none"/>
<path d="M1480.5 527.0 L1491.9 520.2 L1496.4 524.8 L1498.7 533.9 L1507.8 529.3 L1523.8 531.6 L1536.4 536.2 L1530.7 538.5 L1519.3 545.3 L1510.1 552.1 L1501.0 560.1 L1495.3 554.4 L1491.9 545.3 L1482.7 543.0 L1480.5 536.2 Z" fill="none"/>
<path d="M1382.3 684.5 L1400.6 686.8 L1396.0 711.9 L1380.1 741.5 L1389.2 752.9 L1382.3 766.6 L1370.9 757.5 L1355.0 752.9 L1348.1 762.1 L1334.4 750.7 L1328.7 732.4 L1336.7 718.7 L1345.8 705.0 L1355.0 698.2 L1366.4 701.6 L1377.8 689.1 Z" fill="#fff" stroke="none"/>
<path d="M1382.3 684.5 L1400.6 686.8 L1396.0 711.9 L1380.1 741.5 L1389.2 752.9 L1382.3 766.6 L1370.9 757.5 L1355.0 752.9 L1348.1 762.1 L1334.4 750.7 L1328.7 732.4 L1336.7 718.7 L1345.8 705.0 L1355.0 698.2 L1366.4 701.6 L1377.8 689.1 Z" fill="none"/>
<path d="M1352.7 766.6 L1361.8 766.6 L1370.9 773.5 L1382.3 775.8 L1386.9 782.6 L1380.1 788.3 L1370.9 784.9 L1364.1 782.6 L1355.0 778.0 L1350.4 771.2 Z" fill="#fff" stroke="none"/>
<path d="M1352.7 766.6 L1361.8 766.6 L1370.9 773.5 L1382.3 775.8 L1386.9 782.6 L1380.1 788.3 L1370.9 784.9 L1364.1 782.6 L1355.0 778.0 L1350.4 771.2 Z" fill="none"/>
<path d="M1250.0 749.5 L1259.1 748.4 L1267.1 754.1 L1263.7 760.9 L1254.6 764.4 L1250.0 763.2 Z" fill="#fff" stroke="none"/>
<path d="M1250.0 749.5 L1259.1 748.4 L1267.1 754.1 L1263.7 760.9 L1254.6 764.4 L1250.0 763.2 Z" fill="none"/>
<path d="M1309.3 739.3 L1316.2 750.7 L1318.5 762.1 L1311.6 762.1 L1305.9 755.2 L1302.5 750.7 Z" fill="#fff" stroke="none"/>
<path d="M1309.3 739.3 L1316.2 750.7 L1318.5 762.1 L1311.6 762.1 L1305.9 755.2 L1302.5 750.7 Z" fill="none"/>
<path d="M1250.0 773.5 L1263.7 775.8 L1277.4 773.5 L1283.1 766.6 L1286.5 775.8 L1286.5 784.9 L1292.2 789.5 L1288.8 794.0 L1277.4 791.7 L1263.7 794.0 L1256.8 789.5 L1250.0 784.9 Z" fill="#fff" stroke="none"/>
<path d="M1250.0 773.5 L1263.7 775.8 L1277.4 773.5 L1283.1 766.6 L1286.5 775.8 L1286.5 784.9 L1292.2 789.5 L1288.8 794.0 L1277.4 791.7 L1263.7 794.0 L1256.8 789.5 L1250.0 784.9 Z" fill="none"/>
<path d="M1304.8 780.3 L1316.2 780.3 L1323.0 784.9 L1320.7 791.7 L1311.6 796.3 L1304.8 799.7 L1301.3 791.7 Z" fill="#fff" stroke="none"/>
<path d="M1304.8 780.3 L1316.2 780.3 L1323.0 784.9 L1320.7 791.7 L1311.6 796.3 L1304.8 799.7 L1301.3 791.7 Z" fill="none"/>
<path d="M1325.3 776.9 L1332.1 775.8 L1341.3 782.6 L1348.1 794.0 L1355.0 799.7 L1364.1 796.3 L1373.2 794.0 L1382.3 800.9 L1384.6 811.1 L1368.7 812.3 L1355.0 813.4 L1345.8 812.3 L1341.3 810.0 L1339.0 798.6 L1334.4 789.5 L1327.6 784.9 L1324.2 780.3 Z" fill="#fff" stroke="none"/>
<path d="M1325.3 776.9 L1332.1 775.8 L1341.3 782.6 L1348.1 794.0 L1355.0 799.7 L1364.1 796.3 L1373.2 794.0 L1382.3 800.9 L1384.6 811.1 L1368.7 812.3 L1355.0 813.4 L1345.8 812.3 L1341.3 810.0 L1339.0 798.6 L1334.4 789.5 L1327.6 784.9 L1324.2 780.3 Z" fill="none"/>
<path d="M1250.0 810.0 L1263.7 814.6 L1272.8 826.0 L1268.3 835.1 L1275.1 816.8 L1281.9 818.0 L1284.2 835.1 L1286.5 853.3 L1295.6 862.5 L1293.4 871.6 L1281.9 873.9 L1272.8 871.6 L1268.3 862.5 L1259.1 862.5 L1250.0 864.8 Z" fill="#fff" stroke="none"/>
<path d="M1250.0 810.0 L1263.7 814.6 L1272.8 826.0 L1268.3 835.1 L1275.1 816.8 L1281.9 818.0 L1284.2 835.1 L1286.5 853.3 L1295.6 862.5 L1293.4 871.6 L1281.9 873.9 L1272.8 871.6 L1268.3 862.5 L1259.1 862.5 L1250.0 864.8 Z" fill="none"/>
<path d="M1294.5 826.0 L1302.5 828.2 L1307.0 819.1 L1318.5 819.1 L1317.3 835.1 L1316.2 846.5 L1309.3 846.5 L1304.8 839.7 L1297.9 835.1 Z" fill="#fff" stroke="none"/>
<path d="M1294.5 826.0 L1302.5 828.2 L1307.0 819.1 L1318.5 819.1 L1317.3 835.1 L1316.2 846.5 L1309.3 846.5 L1304.8 839.7 L1297.9 835.1 Z" fill="none"/>
<path d="M1325.3 819.1 L1345.8 821.4 L1341.3 828.2 L1329.9 832.8 L1327.6 846.5 L1324.2 844.2 L1324.2 830.5 Z" fill="#fff" stroke="none"/>
<path d="M1325.3 819.1 L1345.8 821.4 L1341.3 828.2 L1329.9 832.8 L1327.6 846.5 L1324.2 844.2 L1324.2 830.5 Z" fill="none"/>
<path d="M1318.5 853.3 L1327.6 848.8 L1329.9 857.9 L1336.7 867.0 L1341.3 871.6 L1339.0 878.4 L1332.1 878.4 L1329.9 887.6 L1320.7 887.6 L1318.5 876.2 L1316.2 867.0 L1318.5 860.2 Z" fill="#fff" stroke="none"/>
<path d="M1318.5 853.3 L1327.6 848.8 L1329.9 857.9 L1336.7 867.0 L1341.3 871.6 L1339.0 878.4 L1332.1 878.4 L1329.9 887.6 L1320.7 887.6 L1318.5 876.2 L1316.2 867.0 L1318.5 860.2 Z" fill="none"/>
<path d="M1301.3 878.4 L1310.5 871.6 L1318.5 885.3 L1313.9 889.9 L1304.8 885.3 Z" fill="#fff" stroke="none"/>
<path d="M1301.3 878.4 L1310.5 871.6 L1318.5 885.3 L1313.9 889.9 L1304.8 885.3 Z" fill="none"/>
<path d="M1350.4 830.5 L1359.5 822.5 L1384.6 821.4 L1405.2 830.5 L1412.0 846.5 L1430.3 844.2 L1446.2 860.2 L1462.2 862.5 L1469.1 876.2 L1496.4 880.7 L1510.1 880.7 L1510.1 905.8 L1491.9 910.4 L1475.9 915.0 L1469.1 899.0 L1448.5 905.8 L1446.2 930.0 L1448.5 943.7 L1432.5 939.1 L1423.4 934.6 L1409.7 930.0 L1409.7 930.0 L1398.3 903.5 L1396.0 887.6 L1386.9 876.2 L1368.7 871.6 L1355.0 864.8 L1349.3 846.5 L1350.4 830.5 Z" fill="#fff" stroke="none"/>
<path d="M1350.4 830.5 L1359.5 822.5 L1384.6 821.4 L1405.2 830.5 L1412.0 846.5 L1430.3 844.2 L1446.2 860.2 L1462.2 862.5 L1469.1 876.2 L1496.4 880.7 L1510.1 880.7 L1510.1 905.8 L1491.9 910.4 L1475.9 915.0 L1469.1 899.0 L1448.5 905.8 L1446.2 930.0 L1448.5 943.7 L1432.5 939.1 L1423.4 934.6 L1409.7 930.0 L1409.7 930.0 L1398.3 903.5 L1396.0 887.6 L1386.9 876.2 L1368.7 871.6 L1355.0 864.8 L1349.3 846.5 L1350.4 830.5 Z" fill="none"/>
<path d="M1965.3 501.2 L1978.8 496.2 L1983.7 499.7 L1981.6 505.4 L1970.2 513.2 L1967.4 509.7 Z" fill="#fff" stroke="none"/>
<path d="M1965.3 501.2 L1978.8 496.2 L1983.7 499.7 L1981.6 505.4 L1970.2 513.2 L1967.4 509.7 Z" fill="none"/>
<path d="M1792.8 631.7 L1804.2 623.2 L1807.0 613.3 L1814.1 610.4 L1824.1 623.2 L1829.7 606.2 L1843.9 597.7 L1846.8 592.0 L1856.7 582.1 L1865.2 579.9 L1872.3 584.9 L1878.0 587.7 L1875.2 601.9 L1866.6 606.2 L1856.7 603.3 L1856.7 616.1 L1838.3 619.0 L1835.4 628.9 L1824.1 636.0 L1829.7 641.7 L1817.0 643.1 L1807.0 637.4 L1798.5 634.6 Z" fill="#fff" stroke="none"/>
<path d="M1792.8 631.7 L1804.2 623.2 L1807.0 613.3 L1814.1 610.4 L1824.1 623.2 L1829.7 606.2 L1843.9 597.7 L1846.8 592.0 L1856.7 582.1 L1865.2 579.9 L1872.3 584.9 L1878.0 587.7 L1875.2 601.9 L1866.6 606.2 L1856.7 603.3 L1856.7 616.1 L1838.3 619.0 L1835.4 628.9 L1824.1 636.0 L1829.7 641.7 L1817.0 643.1 L1807.0 637.4 L1798.5 634.6 Z" fill="none"/>
<path d="M1830.4 647.3 L1841.1 647.3 L1865.2 648.8 L1861.0 672.9 L1859.5 685.7 L1855.3 672.9 L1849.6 677.1 L1846.8 681.4 L1838.3 677.1 L1836.8 665.8 L1832.6 655.9 Z" fill="#fff" stroke="none"/>
<path d="M1830.4 647.3 L1841.1 647.3 L1865.2 648.8 L1861.0 672.9 L1859.5 685.7 L1855.3 672.9 L1849.6 677.1 L1846.8 681.4 L1838.3 677.1 L1836.8 665.8 L1832.6 655.9 Z" fill="none"/>
<path d="M1179.2 453.9 L1184.1 440.8 L1197.2 437.6 L1203.7 444.1 L1202.1 450.7 L1193.9 453.9 L1187.3 460.5 L1180.8 462.1 Z" fill="#fff" stroke="none"/>
<path d="M1179.2 453.9 L1184.1 440.8 L1197.2 437.6 L1203.7 444.1 L1202.1 450.7 L1193.9 453.9 L1187.3 460.5 L1180.8 462.1 Z" fill="none"/>
<path d="M1164.4 476.9 L1167.7 468.7 L1177.5 465.4 L1174.2 471.0 L1168.3 473.6 Z" fill="#fff" stroke="none"/>
<path d="M1164.4 476.9 L1167.7 468.7 L1177.5 465.4 L1174.2 471.0 L1168.3 473.6 Z" fill="none"/>
<path d="M1198.8 794.5 L1203.7 784.7 L1213.5 781.4 L1220.1 771.6 L1229.9 773.3 L1233.2 784.7 L1243.0 791.3 L1247.9 801.1 L1239.7 804.4 L1226.6 806.0 L1216.8 810.9 L1203.7 810.9 Z" fill="#fff" stroke="none"/>
<path d="M1198.8 794.5 L1203.7 784.7 L1213.5 781.4 L1220.1 771.6 L1229.9 773.3 L1233.2 784.7 L1243.0 791.3 L1247.9 801.1 L1239.7 804.4 L1226.6 806.0 L1216.8 810.9 L1203.7 810.9 Z" fill="none"/>
<path d="M1608.3 370.4 L1619.6 370.4 L1628.1 375.4 L1632.4 383.9 L1634.5 402.4 L1642.3 395.3 L1657.9 383.9 L1652.3 372.6 L1645.2 365.5 L1636.6 357.7 L1629.5 358.4 L1626.7 366.9 L1613.9 364.1 Z" fill="#CBCBCE" stroke="none"/>
<path d="M1608.3 370.4 L1619.6 370.4 L1628.1 375.4 L1632.4 383.9 L1634.5 402.4 L1642.3 395.3 L1657.9 383.9 L1652.3 372.6 L1645.2 365.5 L1636.6 357.7 L1629.5 358.4 L1626.7 366.9 L1613.9 364.1 Z" fill="none"/>
<path d="M1674.1 443.6 L1680.4 437.3 L1687.6 442.5 L1698.0 444.6 L1709.4 448.7 L1717.7 452.9 L1728.1 446.7 L1742.6 443.6 L1745.7 433.2 L1748.8 425.9 L1742.6 420.7 L1749.9 415.6 L1755.0 421.8 L1766.5 420.2 L1761.3 413.0 L1765.4 409.9 L1771.1 411.9 L1774.8 420.7 L1778.9 426.4 L1789.3 429.6 L1799.6 426.4 L1809.0 421.8 L1814.2 432.2 L1820.4 444.6 L1827.6 458.1 L1835.9 466.4 L1840.1 474.7 L1837.0 483.0 L1834.4 490.2 L1842.2 496.5 L1845.3 499.6 L1840.1 504.8 L1829.7 509.4 L1820.4 512.5 L1817.3 509.9 L1825.6 504.8 L1828.2 498.5 L1823.5 493.9 L1820.4 491.3 L1822.5 485.0 L1820.4 479.9 L1813.1 477.8 L1804.8 474.7 L1797.6 470.5 L1792.4 466.4 L1784.1 469.5 L1778.9 471.6 L1773.7 467.4 L1769.6 464.3 L1765.4 458.1 L1761.3 455.0 L1756.1 459.1 L1753.0 466.4 L1750.9 473.6 L1742.6 474.7 L1732.2 476.7 L1717.7 470.5 L1711.5 466.4 L1704.2 458.1 L1697.0 456.0 L1693.9 462.2 L1685.6 464.3 L1678.3 460.2 L1674.1 449.8 Z" fill="#CBCBCE" stroke="none"/>
<path d="M1674.1 443.6 L1680.4 437.3 L1687.6 442.5 L1698.0 444.6 L1709.4 448.7 L1717.7 452.9 L1728.1 446.7 L1742.6 443.6 L1745.7 433.2 L1748.8 425.9 L1742.6 420.7 L1749.9 415.6 L1755.0 421.8 L1766.5 420.2 L1761.3 413.0 L1765.4 409.9 L1771.1 411.9 L1774.8 420.7 L1778.9 426.4 L1789.3 429.6 L1799.6 426.4 L1809.0 421.8 L1814.2 432.2 L1820.4 444.6 L1827.6 458.1 L1835.9 466.4 L1840.1 474.7 L1837.0 483.0 L1834.4 490.2 L1842.2 496.5 L1845.3 499.6 L1840.1 504.8 L1829.7 509.4 L1820.4 512.5 L1817.3 509.9 L1825.6 504.8 L1828.2 498.5 L1823.5 493.9 L1820.4 491.3 L1822.5 485.0 L1820.4 479.9 L1813.1 477.8 L1804.8 474.7 L1797.6 470.5 L1792.4 466.4 L1784.1 469.5 L1778.9 471.6 L1773.7 467.4 L1769.6 464.3 L1765.4 458.1 L1761.3 455.0 L1756.1 459.1 L1753.0 466.4 L1750.9 473.6 L1742.6 474.7 L1732.2 476.7 L1717.7 470.5 L1711.5 466.4 L1704.2 458.1 L1697.0 456.0 L1693.9 462.2 L1685.6 464.3 L1678.3 460.2 L1674.1 449.8 Z" fill="none"/>
<path d="M1784.1 520.3 L1799.6 520.3 L1806.9 525.5 L1814.2 528.6 L1825.6 526.0 L1835.9 526.0 L1848.4 528.6 L1855.6 533.8 L1860.0 537.9 L1860.0 545.2 L1799.6 545.2 L1796.5 533.8 L1791.3 524.5 Z" fill="#CBCBCE" stroke="none"/>
<path d="M1796.5 533.8 L1791.3 524.5 L1784.1 520.3 L1799.6 520.3 L1806.9 525.5 L1814.2 528.6 L1825.6 526.0 L1835.9 526.0 L1848.4 528.6 L1855.6 533.8 L1860.0 537.9" fill="none"/>
<path d="M1900.0 231.9 L1905.6 229.9 L1916.7 234.0 L1929.2 238.9 L1933.3 229.2 L1940.3 231.9 L1946.5 241.0 L1941.7 252.8 L1955.6 275.0 L1970.8 294.4 L1973.6 302.8 L1975.0 318.1 L1980.6 336.1 L1988.9 352.8 L1995.8 362.5 L2006.9 360.4 L2011.1 394.4 L2013.9 422.2 L2016.7 466.7 L2011.1 466.7 L2004.2 459.7 L1997.2 463.9 L1991.7 472.2 L1993.1 480.0 L1990.1 474.2 L1994.4 495.5 L2000.0 523.9 L2002.9 545.2 L2008.6 587.7 L2012.8 626.1 L2007.1 627.5 L2005.7 640.2 L2005.7 640.2 L2004.3 627.5 L1998.6 616.1 L1997.2 603.3 L1988.7 599.1 L1974.5 587.7 L1968.8 566.4 L1960.3 559.3 L1953.2 531.0 L1946.1 516.8 L1940.4 495.5 L1953.2 481.3 L1954.2 480.0 L1956.9 456.9 L1959.7 441.7 L1965.3 427.8 L1961.1 422.2 L1950.0 426.4 L1945.8 454.2 L1938.9 461.1 L1934.7 480.0 L1927.8 486.1 L1920.8 480.0 L1920.8 456.9 L1930.6 447.2 L1933.3 422.2 L1936.1 404.2 L1945.8 400.0 L1951.4 384.7 L1956.9 379.2 L1952.8 359.7 L1947.2 363.9 L1948.6 372.2 L1938.9 370.8 L1931.9 366.7 L1919.4 337.5 L1927.8 329.2 L1937.5 311.1 L1933.3 297.2 L1920.8 283.3 L1916.7 266.7 L1911.1 255.6 L1900.0 251.4 L1889.0 240.0 Z" fill="#CBCBCE" stroke="none"/>
<path d="M1900.0 231.9 L1905.6 229.9 L1916.7 234.0 L1929.2 238.9 L1933.3 229.2 L1940.3 231.9 L1946.5 241.0 L1941.7 252.8 L1955.6 275.0 L1970.8 294.4 L1973.6 302.8 L1975.0 318.1 L1980.6 336.1 L1988.9 352.8 L1995.8 362.5 L2006.9 360.4 L2011.1 394.4 L2013.9 422.2 L2016.7 466.7 L2011.1 466.7 L2004.2 459.7 L1997.2 463.9 L1991.7 472.2 L1993.1 480.0 L1990.1 474.2 L1994.4 495.5 L2000.0 523.9 L2002.9 545.2 L2008.6 587.7 L2012.8 626.1 L2007.1 627.5 L2005.7 640.2 L2005.7 640.2 L2004.3 627.5 L1998.6 616.1 L1997.2 603.3 L1988.7 599.1 L1974.5 587.7 L1968.8 566.4 L1960.3 559.3 L1953.2 531.0 L1946.1 516.8 L1940.4 495.5 L1953.2 481.3 L1954.2 480.0 L1956.9 456.9 L1959.7 441.7 L1965.3 427.8 L1961.1 422.2 L1950.0 426.4 L1945.8 454.2 L1938.9 461.1 L1934.7 480.0 L1927.8 486.1 L1920.8 480.0 L1920.8 456.9 L1930.6 447.2 L1933.3 422.2 L1936.1 404.2 L1945.8 400.0 L1951.4 384.7 L1956.9 379.2 L1952.8 359.7 L1947.2 363.9 L1948.6 372.2 L1938.9 370.8 L1931.9 366.7 L1919.4 337.5 L1927.8 329.2 L1937.5 311.1 L1933.3 297.2 L1920.8 283.3 L1916.7 266.7 L1911.1 255.6 L1900.0 251.4 L1889.0 240.0 Z" fill="none"/>
<path d="M1650.0 105.8 L1656.8 103.6 L1677.4 108.1 L1686.5 112.7 L1684.2 119.5 L1672.8 124.1 L1661.4 121.8 L1650.0 117.2 Z" fill="#CBCBCE" stroke="none"/>
<path d="M1650.0 105.8 L1656.8 103.6 L1677.4 108.1 L1686.5 112.7 L1684.2 119.5 L1672.8 124.1 L1661.4 121.8 L1650.0 117.2 Z" fill="none"/>
<path d="M1729.9 117.2 L1734.4 124.1 L1736.7 133.2 L1741.3 137.8 L1739.0 144.6 L1725.3 149.2 L1715.0 151.5 L1713.9 160.6 L1720.7 169.7 L1734.4 176.6 L1745.8 180.0 L1757.2 185.7 L1761.8 183.4 L1773.2 185.7 L1768.7 176.6 L1775.5 169.7 L1774.4 156.0 L1768.7 146.9 L1773.2 142.3 L1784.6 144.6 L1792.6 138.9 L1789.2 133.2 L1777.8 117.2 L1764.1 108.1 L1755.0 105.8 L1748.1 110.4 L1745.8 117.2 L1741.3 124.1 Z" fill="#CBCBCE" stroke="none"/>
<path d="M1729.9 117.2 L1734.4 124.1 L1736.7 133.2 L1741.3 137.8 L1739.0 144.6 L1725.3 149.2 L1715.0 151.5 L1713.9 160.6 L1720.7 169.7 L1734.4 176.6 L1745.8 180.0 L1757.2 185.7 L1761.8 183.4 L1773.2 185.7 L1768.7 176.6 L1775.5 169.7 L1774.4 156.0 L1768.7 146.9 L1773.2 142.3 L1784.6 144.6 L1792.6 138.9 L1789.2 133.2 L1777.8 117.2 L1764.1 108.1 L1755.0 105.8 L1748.1 110.4 L1745.8 117.2 L1741.3 124.1 Z" fill="none"/>
<path d="M1820.0 210.8 L1828.0 208.5 L1837.1 213.1 L1848.5 226.8 L1855.4 238.2 L1862.2 249.6 L1864.5 258.7 L1869.1 267.8 L1878.2 277.0 L1887.3 286.1 L1896.4 295.2 L1901.0 304.4 L1903.3 313.5 L1901.0 322.6 L1896.4 326.0 L1887.3 324.9 L1878.2 323.7 L1869.1 318.0 L1859.9 315.8 L1848.5 311.2 L1844.0 306.6 L1848.5 295.2 L1844.0 286.1 L1850.8 286.1 L1853.1 279.3 L1846.2 274.7 L1839.4 274.7 L1837.1 279.3 L1825.7 270.1 L1818.9 263.3 L1809.7 256.4 L1802.9 251.9 L1805.2 247.3 L1814.3 249.6 L1818.9 247.3 L1825.7 249.6 L1828.0 240.5 L1823.4 229.1 L1818.9 219.9 Z" fill="#CBCBCE" stroke="none"/>
<path d="M1820.0 210.8 L1828.0 208.5 L1837.1 213.1 L1848.5 226.8 L1855.4 238.2 L1862.2 249.6 L1864.5 258.7 L1869.1 267.8 L1878.2 277.0 L1887.3 286.1 L1896.4 295.2 L1901.0 304.4 L1903.3 313.5 L1901.0 322.6 L1896.4 326.0 L1887.3 324.9 L1878.2 323.7 L1869.1 318.0 L1859.9 315.8 L1848.5 311.2 L1844.0 306.6 L1848.5 295.2 L1844.0 286.1 L1850.8 286.1 L1853.1 279.3 L1846.2 274.7 L1839.4 274.7 L1837.1 279.3 L1825.7 270.1 L1818.9 263.3 L1809.7 256.4 L1802.9 251.9 L1805.2 247.3 L1814.3 249.6 L1818.9 247.3 L1825.7 249.6 L1828.0 240.5 L1823.4 229.1 L1818.9 219.9 Z" fill="none"/>
<path d="M1490.7 63.6 L1510.1 64.8 L1518.1 69.8 L1536.4 71.2 L1542.1 64.8 L1537.5 62.5 L1523.8 62.0 L1512.4 64.8 L1501.0 63.6 Z" fill="#CBCBCE" stroke="none"/>
<path d="M1490.7 63.6 L1510.1 64.8 L1518.1 69.8 L1536.4 71.2 L1542.1 64.8 L1537.5 62.5 L1523.8 62.0 L1512.4 64.8 L1501.0 63.6 Z" fill="none"/>
<path d="M1920.6 460.0 L1922.0 471.4 L1927.7 478.5 L1933.3 478.5 L1936.2 471.4 L1939.0 460.0 Z" fill="#CBCBCE" stroke="none"/>
<path d="M1920.6 460.0 L1922.0 471.4 L1927.7 478.5 L1933.3 478.5 L1936.2 471.4 L1939.0 460.0 Z" fill="none"/>
<path d="M1362.9 1110.3 L1364.1 1102.3 L1377.8 1098.9 L1389.2 1087.4 L1400.6 1087.4 L1414.3 1094.3 L1417.7 1105.7 L1409.7 1103.4 L1398.3 1105.7 L1386.9 1108.0 L1377.8 1110.3 Z" fill="#CBCBCE" stroke="none"/>
<path d="M1362.9 1110.3 L1364.1 1102.3 L1377.8 1098.9 L1389.2 1087.4 L1400.6 1087.4 L1414.3 1094.3 L1417.7 1105.7 L1409.7 1103.4 L1398.3 1105.7 L1386.9 1108.0 L1377.8 1110.3 Z" fill="none"/>
<path d="M1396.0 1128.5 L1405.2 1119.4 L1414.3 1112.5 L1418.9 1110.3 L1414.3 1119.4 L1409.7 1128.5 L1407.4 1142.2 L1407.4 1158.2 L1405.2 1163.9 L1398.3 1162.7 L1396.0 1153.6 L1398.3 1142.2 L1393.8 1135.4 Z" fill="#CBCBCE" stroke="none"/>
<path d="M1396.0 1128.5 L1405.2 1119.4 L1414.3 1112.5 L1418.9 1110.3 L1414.3 1119.4 L1409.7 1128.5 L1407.4 1142.2 L1407.4 1158.2 L1405.2 1163.9 L1398.3 1162.7 L1396.0 1153.6 L1398.3 1142.2 L1393.8 1135.4 Z" fill="none"/>
<path d="M1423.4 1119.4 L1432.5 1117.1 L1441.7 1114.8 L1450.8 1119.4 L1459.9 1121.7 L1463.3 1130.8 L1455.4 1128.5 L1448.5 1126.2 L1444.0 1128.5 L1441.7 1135.4 L1439.4 1139.9 L1432.5 1135.4 L1428.0 1128.5 L1425.7 1124.0 Z" fill="#CBCBCE" stroke="none"/>
<path d="M1423.4 1119.4 L1432.5 1117.1 L1441.7 1114.8 L1450.8 1119.4 L1459.9 1121.7 L1463.3 1130.8 L1455.4 1128.5 L1448.5 1126.2 L1444.0 1128.5 L1441.7 1135.4 L1439.4 1139.9 L1432.5 1135.4 L1428.0 1128.5 L1425.7 1124.0 Z" fill="none"/>
<path d="M1444.0 1160.5 L1450.8 1155.9 L1459.9 1151.3 L1469.1 1146.8 L1478.2 1143.3 L1482.7 1144.5 L1475.9 1151.3 L1466.8 1155.9 L1455.4 1160.5 L1446.2 1162.7 Z" fill="#CBCBCE" stroke="none"/>
<path d="M1444.0 1160.5 L1450.8 1155.9 L1459.9 1151.3 L1469.1 1146.8 L1478.2 1143.3 L1482.7 1144.5 L1475.9 1151.3 L1466.8 1155.9 L1455.4 1160.5 L1446.2 1162.7 Z" fill="none"/>
<path d="M1480.5 1133.1 L1489.6 1130.8 L1496.4 1128.5 L1503.3 1126.2 L1505.6 1130.8 L1498.7 1133.1 L1489.6 1135.4 L1482.7 1135.4 Z" fill="#CBCBCE" stroke="none"/>
<path d="M1480.5 1133.1 L1489.6 1130.8 L1496.4 1128.5 L1503.3 1126.2 L1505.6 1130.8 L1498.7 1133.1 L1489.6 1135.4 L1482.7 1135.4 Z" fill="none"/>
<path d="M1208.2 1114.8 L1210.5 1124.0 L1224.2 1130.8 L1235.6 1142.2 L1250.0 1146.8" fill="none"/>
<path d="M1220.8 1155.9 L1218.5 1167.3 L1224.2 1171.9 L1237.9 1178.7 L1250.0 1181.0" fill="none"/>
<path d="M1191.1 1165.0 L1204.8 1176.4 L1206.0 1181.0 L1201.4 1192.4 L1196.8 1208.4 L1206.0 1222.1 L1217.4 1231.2 L1217.4 1249.5 L1224.2 1267.7 L1228.8 1286.0 L1231.1 1304.2 L1237.9 1313.3 L1250.0 1317.9" fill="none"/>
<path d="M1237.9 1192.4 L1250.0 1197.0" fill="none"/>
<path d="M1237.9 1224.4 L1242.5 1231.2 L1243.6 1240.3 L1250.0 1239.2" fill="none"/>
<path d="M1250.0 1146.8 L1259.1 1150.2 L1268.3 1153.6 L1275.1 1158.2 L1284.2 1155.9 L1291.1 1158.2 L1297.9 1167.3 L1300.2 1176.4 L1300.2 1181.0 L1307.0 1192.4 L1309.3 1203.8" fill="none"/>
<path d="M1250.0 1181.0 L1259.1 1183.3 L1268.3 1187.8 L1275.1 1190.1 L1281.9 1199.3 L1288.8 1203.8 L1297.9 1210.7 L1307.0 1212.9 L1318.5 1212.9 L1327.6 1215.2 L1336.7 1219.8 L1341.3 1222.1 L1345.8 1231.2 L1350.4 1235.8 L1352.7 1244.9 L1350.4 1258.6 L1345.8 1267.7 L1341.3 1276.8 L1340.1 1286.0 L1343.6 1297.4" fill="none"/>
<path d="M1250.0 1197.0 L1256.8 1201.5" fill="none"/>
<path d="M1250.0 1240.3 L1254.6 1242.6 L1259.1 1247.2" fill="none"/>
<path d="M1272.8 1272.3 L1279.7 1286.0 L1286.5 1295.1" fill="none"/>
<path d="M1316.2 1238.0 L1318.5 1249.5 L1325.3 1258.6 L1327.6 1272.3 L1339.0 1279.1" fill="none"/>
<path d="M1368.7 1228.9 L1377.8 1219.8 L1386.9 1210.7 L1396.0 1203.8 L1405.2 1199.3 L1414.3 1197.0 L1428.0 1194.7 L1439.4 1192.4 L1446.2 1190.1 L1450.8 1197.0 L1459.9 1199.3 L1469.1 1201.5 L1475.9 1194.7 L1487.3 1185.6 L1494.2 1178.7 L1496.4 1174.2" fill="none"/>
<path d="M1482.7 1135.4 L1494.2 1130.8 L1505.6 1124.0 L1517.0 1117.1 L1528.4 1110.3" fill="none"/>
<path d="M1359.5 87.6 L1364.1 81.2" fill="none"/>
<path d="M1442.8 64.8 L1440.5 78.5 L1444.0 80.7 L1446.2 67.0 L1442.8 64.8" fill="none"/>
<path d="M1433.7 126.8 L1451.9 120.0" fill="none"/>
<path d="M1250.0 124.1 L1259.1 115.0 L1269.4 109.7" fill="none"/>
<path d="M1272.8 122.9 L1275.1 142.3 L1281.9 148.0 L1291.1 146.9 L1289.9 141.2 L1281.9 140.1 L1277.4 128.7 L1272.8 122.9" fill="none"/>
<path d="M1360.7 128.7 L1364.1 117.2 L1368.7 113.8 L1372.1 124.1 L1360.7 129.8" fill="none"/>
<path d="M1596.8 241.6 L1606.0 235.9 L1613.9 231.3 L1611.7 223.3 L1609.4 235.9 L1598.0 240.9" fill="none"/>
<path d="M1620.8 225.6 L1635.6 226.8" fill="none"/>
<path d="M1656.8 227.9 L1672.8 237.0 L1679.7 239.3 L1684.2 235.9 L1681.9 229.1 L1686.5 223.3 L1692.2 225.6 L1688.8 229.1 L1681.9 229.1" fill="none"/>
<path d="M1717.3 226.8 L1723.0 230.2 L1732.1 226.8 L1741.3 224.5 L1759.5 221.1 L1739.0 225.6 L1733.3 219.9 L1728.7 226.8 L1718.5 225.6" fill="none"/>
<path d="M1757.2 234.8 L1764.1 230.2 L1773.2 230.2 L1778.9 233.2 L1768.7 232.5 L1757.2 234.8" fill="none"/>
<path d="M1704.8 318.0 L1709.3 318.0 L1712.1 326.0 L1710.5 332.9 L1703.6 332.9 L1702.5 326.0 L1704.8 318.0" fill="none"/>
<path d="M1677.4 372.8 L1681.9 361.4 L1688.8 352.3 L1694.5 359.1 L1689.9 368.2 L1684.2 370.5 L1677.4 372.8" fill="none"/>
<path d="M1812.5 336.3 L1820.0 332.9" fill="none"/>
<path d="M1821.1 322.6 L1817.7 302.1 L1815.4 288.4 L1821.1 283.8 L1830.3 290.7 L1841.7 297.5 L1832.5 295.2 L1823.4 286.1 L1818.9 295.2 L1821.1 322.6" fill="none"/>
<path d="M1914.7 153.8 L1923.8 167.4 L1932.9 183.4 L1939.8 197.1 L1943.2 210.8 L1942.1 229.1 L1935.2 229.1 L1934.1 201.7 L1930.7 185.7 L1923.8 169.7 L1914.7 153.8" fill="none"/>
<ellipse cx="943.6" cy="288.4" rx="1.3" ry="2.2" fill="#000" stroke="none"/>
<ellipse cx="940.1" cy="299.8" rx="1.3" ry="2.2" fill="#000" stroke="none"/>
<ellipse cx="935.6" cy="315.8" rx="1.3" ry="2.2" fill="#000" stroke="none"/>
<ellipse cx="931.0" cy="329.5" rx="1.3" ry="2.2" fill="#000" stroke="none"/>
<ellipse cx="931.7" cy="338.6" rx="1.3" ry="2.2" fill="#000" stroke="none"/>
<ellipse cx="929.9" cy="352.3" rx="1.3" ry="2.2" fill="#000" stroke="none"/>
<ellipse cx="932.1" cy="366.0" rx="1.3" ry="2.2" fill="#000" stroke="none"/>
<ellipse cx="934.4" cy="376.2" rx="1.3" ry="2.2" fill="#000" stroke="none"/>
<ellipse cx="931.0" cy="457.2" rx="1.3" ry="2.2" fill="#000" stroke="none"/>
<ellipse cx="902.5" cy="496.2" rx="1.3" ry="2.2" fill="#000" stroke="none"/>
<ellipse cx="901.3" cy="511.1" rx="1.3" ry="2.2" fill="#000" stroke="none"/>
<ellipse cx="899.1" cy="523.6" rx="1.3" ry="2.2" fill="#000" stroke="none"/>
<ellipse cx="897.9" cy="536.2" rx="1.3" ry="2.2" fill="#000" stroke="none"/>
<ellipse cx="896.8" cy="556.7" rx="1.3" ry="2.2" fill="#000" stroke="none"/>
<ellipse cx="895.6" cy="570.4" rx="1.3" ry="2.2" fill="#000" stroke="none"/>
<ellipse cx="895.6" cy="581.8" rx="1.3" ry="2.2" fill="#000" stroke="none"/>
<ellipse cx="896.8" cy="594.4" rx="1.3" ry="2.2" fill="#000" stroke="none"/>
<ellipse cx="899.1" cy="608.0" rx="1.3" ry="2.2" fill="#000" stroke="none"/>
<ellipse cx="903.6" cy="622.9" rx="1.3" ry="2.2" fill="#000" stroke="none"/>
<ellipse cx="905.9" cy="633.1" rx="1.3" ry="2.2" fill="#000" stroke="none"/>
<ellipse cx="911.6" cy="644.6" rx="1.3" ry="2.2" fill="#000" stroke="none"/>
<ellipse cx="919.6" cy="661.7" rx="3.2" ry="1.1" transform="rotate(20 919.6 661.7)" fill="#fff"/>
<ellipse cx="927.6" cy="674.9" rx="4.6" ry="1.6" transform="rotate(45 927.6 674.9)" fill="#fff"/>
<ellipse cx="934.4" cy="691.3" rx="4.1" ry="1.6" transform="rotate(60 934.4 691.3)" fill="#fff"/>
</g>
<path d="M1598 962 L1575.2 1064.6 M1335.6 1324.8 V1343 M1710.5 559 L1776 451" stroke="#231F20" stroke-width="2.4" fill="none"/>
<path d="M970.9 210.8 L985.8 235.9 L956.1 235.9 Z" fill="#0072B2" stroke="#1A1A66" stroke-width="1.6" stroke-linejoin="miter"/>
<path d="M972.1 246.2 L986.9 270.8 L957.2 270.8 Z" fill="#0072B2" stroke="#1A1A66" stroke-width="1.6" stroke-linejoin="miter"/>
<circle cx="947.0" cy="250.7" r="15" fill="#0072B2" stroke="#1A1A66" stroke-width="1.6"/>
<circle cx="988.7" cy="243.2" r="15" fill="#0072B2" stroke="#1A1A66" stroke-width="1.6"/>
<circle cx="1755.4" cy="156.0" r="17.5" fill="#0072B2" stroke="#1A1A66" stroke-width="1.6"/>
<circle cx="1734.9" cy="407.0" r="14.7" fill="#CC79A7" stroke="#55308A" stroke-width="1.6"/>
<circle cx="1778.9" cy="445.8" r="14.7" fill="#CC79A7" stroke="#55308A" stroke-width="1.6"/>
<circle cx="1731.7" cy="458.4" r="14.7" fill="#CC79A7" stroke="#55308A" stroke-width="1.6"/>
<circle cx="1879.3" cy="629.0" r="14.7" fill="#CC79A7" stroke="#55308A" stroke-width="1.6"/>
<circle cx="1925.4" cy="617.9" r="14.7" fill="#CC79A7" stroke="#55308A" stroke-width="1.6"/>
<path d="M1805.8 440.1 L1820.0 465.2 L1791.5 465.2 Z" fill="#D55E00" stroke="#7A3B36" stroke-width="1.6" stroke-linejoin="miter"/>
<path d="M1797.2 494.0 L1812.0 519.0 L1782.3 519.0 Z" fill="#D55E00" stroke="#7A3B36" stroke-width="1.6" stroke-linejoin="miter"/>
<path d="M1845.8 503.1 L1859.9 528.2 L1831.4 528.2 Z" fill="#CC79A7" stroke="#55308A" stroke-width="1.6" stroke-linejoin="miter"/>
<path d="M1862.2 530.5 L1877.0 555.6 L1847.4 555.6 Z" fill="#CC79A7" stroke="#55308A" stroke-width="1.6" stroke-linejoin="miter"/>
<path d="M1885.0 577.2 L1901.0 602.3 L1870.2 602.3 Z" fill="#D55E00" stroke="#7A3B36" stroke-width="1.6" stroke-linejoin="miter"/>
<path d="M1078.2 1022.4 L1093.0 1047.5 L1064.5 1047.5 Z" fill="#D55E00" stroke="#7A3B36" stroke-width="1.6" stroke-linejoin="miter"/>
<circle cx="1091.9" cy="982.9" r="13.2" fill="#EFC419" stroke="#8A7752" stroke-width="1.6"/>
<circle cx="1075.9" cy="1009.4" r="13.2" fill="#EFC419" stroke="#8A7752" stroke-width="1.6"/>
<circle cx="1101.7" cy="1013.3" r="13.2" fill="#EFC419" stroke="#8A7752" stroke-width="1.6"/>
<circle cx="1107.4" cy="1046.8" r="13.2" fill="#EFC419" stroke="#8A7752" stroke-width="1.6"/>
<circle cx="1066.8" cy="1061.2" r="13.2" fill="#EFC419" stroke="#8A7752" stroke-width="1.6"/>
<path d="M1046.2 1108.0 L1061.1 1134.2 L1031.4 1134.2 Z" fill="#D55E00" stroke="#7A3B36" stroke-width="1.6" stroke-linejoin="miter"/>
<path d="M1201.3 1203.2 L1216.9 1230.1 L1185.7 1230.1 Z" fill="#009E73" stroke="#1C6B3A" stroke-width="1.6" stroke-linejoin="miter"/>
<path d="M1264.4 1193.2 L1279.4 1219.8 L1249.4 1219.8 Z" fill="#009E73" stroke="#1C6B3A" stroke-width="1.6" stroke-linejoin="miter"/>
<path d="M1298.5 1154.2 L1314.0 1181.2 L1283.0 1181.2 Z" fill="#009E73" stroke="#1C6B3A" stroke-width="1.6" stroke-linejoin="miter"/>
<path d="M1314.1 1184.0 L1329.3 1210.7 L1298.8 1210.7 Z" fill="#009E73" stroke="#1C6B3A" stroke-width="1.6" stroke-linejoin="miter"/>
<path d="M1298.5 1215.9 L1314.0 1242.2 L1283.0 1242.2 Z" fill="#009E73" stroke="#1C6B3A" stroke-width="1.6" stroke-linejoin="miter"/>
<path d="M1266.1 1245.0 L1281.6 1271.3 L1250.6 1271.3 Z" fill="#009E73" stroke="#1C6B3A" stroke-width="1.6" stroke-linejoin="miter"/>
<path d="M1360.0 1219.8 L1375.5 1246.4 L1344.5 1246.4 Z" fill="#009E73" stroke="#1C6B3A" stroke-width="1.6" stroke-linejoin="miter"/>
<path d="M1414.9 1180.9 L1430.4 1207.8 L1399.4 1207.8 Z" fill="#009E73" stroke="#1C6B3A" stroke-width="1.6" stroke-linejoin="miter"/>
<circle cx="1289.3" cy="1306.0" r="14.2" fill="#009E73" stroke="#1C6B3A" stroke-width="1.6"/>
<circle cx="1333.3" cy="1310.3" r="14.2" fill="#009E73" stroke="#1C6B3A" stroke-width="1.6"/>
<circle cx="1358.8" cy="1300.4" r="14.2" fill="#009E73" stroke="#1C6B3A" stroke-width="1.6"/>
<path d="M1509.0 1037.2 L1523.8 1063.5 L1494.2 1063.5 Z" fill="#D55E00" stroke="#7A3B36" stroke-width="1.6" stroke-linejoin="miter"/>
<path d="M1532.5 1050.9 L1547.8 1077.2 L1518.1 1077.2 Z" fill="#D55E00" stroke="#7A3B36" stroke-width="1.6" stroke-linejoin="miter"/>
<path d="M1391.9 1085.2 L1407.4 1110.3 L1376.6 1110.3 Z" fill="#D55E00" stroke="#7A3B36" stroke-width="1.6" stroke-linejoin="miter"/>
<path d="M1443.5 1117.1 L1457.6 1142.2 L1429.1 1142.2 Z" fill="#D55E00" stroke="#7A3B36" stroke-width="1.6" stroke-linejoin="miter"/>
<path d="M1400.1 1134.2 L1415.4 1159.3 L1385.8 1159.3 Z" fill="#D55E00" stroke="#7A3B36" stroke-width="1.6" stroke-linejoin="miter"/>
<path d="M1461.8 1138.8 L1477.0 1165.0 L1447.4 1165.0 Z" fill="#D55E00" stroke="#7A3B36" stroke-width="1.6" stroke-linejoin="miter"/>
<path d="M1495.3 1114.8 L1510.1 1139.9 L1480.5 1139.9 Z" fill="#D55E00" stroke="#7A3B36" stroke-width="1.6" stroke-linejoin="miter"/>
<path d="M1437.6 1223.2 L1452.6 1248.3 L1423.0 1248.3 Z" fill="#D55E00" stroke="#7A3B36" stroke-width="1.6" stroke-linejoin="miter"/>
<circle cx="1544.4" cy="1092.5" r="14.5" fill="#56B4E9" stroke="#1E5C8A" stroke-width="1.6"/>
<circle cx="1585.9" cy="1134.2" r="14.5" fill="#56B4E9" stroke="#1E5C8A" stroke-width="1.6"/>
<circle cx="1571.3" cy="1076.0" r="14.2" fill="#D55E00" stroke="#7A3B36" stroke-width="1.6"/>
<circle cx="1527.9" cy="1104.6" r="14.2" fill="#D55E00" stroke="#7A3B36" stroke-width="1.6"/>
<circle cx="1551.7" cy="1145.6" r="14.2" fill="#D55E00" stroke="#7A3B36" stroke-width="1.6"/>
<circle cx="1572.9" cy="1152.5" r="14.2" fill="#D55E00" stroke="#7A3B36" stroke-width="1.6"/>
<circle cx="1509.0" cy="1210.2" r="14.2" fill="#D55E00" stroke="#7A3B36" stroke-width="1.6"/>
<circle cx="1500.5" cy="1242.6" r="14.2" fill="#D55E00" stroke="#7A3B36" stroke-width="1.6"/>
<circle cx="1462.7" cy="1273.0" r="14.2" fill="#D55E00" stroke="#7A3B36" stroke-width="1.6"/>
<circle cx="1452.6" cy="1315.6" r="14.2" fill="#D55E00" stroke="#7A3B36" stroke-width="1.6"/>
<text x="1146.6" y="263.7" font-size="35.5" fill="#111">Asia</text>
<text x="1784.6" y="391" font-size="35.5" fill="#111">Europe</text>
<text x="1119.3" y="1100" font-size="35.5" fill="#111">North America</text>
<text x="1691" y="593.2" font-size="35.5" fill="#111">(3)</text>
<text x="1577" y="955" font-size="35.5" fill="#111">(1)</text>
<text x="1315" y="1376" font-size="35.5" fill="#111">(2)</text>
<circle cx="1742.1" cy="867.6" r="13.3" fill="none" stroke="#231F20" stroke-width="1.6"/>
<path d="M1742.1 907 L1757.6 933.2 L1726.8 933.2 Z" fill="none" stroke="#231F20" stroke-width="1.6"/>
<text x="1779.4" y="880.2" font-size="35.5" fill="#111">Native</text>
<text x="1779.4" y="933.2" font-size="35.5" fill="#111">Invasive</text>
<circle cx="1742.1" cy="998.1" r="13.3" fill="#CC79A7" stroke="#231F20" stroke-width="1.6"/>
<text x="1776.5" y="1010.3" font-size="35.5" fill="#111">Europe</text>
<circle cx="1742.1" cy="1063.7" r="13.3" fill="#009E73" stroke="#231F20" stroke-width="1.6"/>
<text x="1776.5" y="1075.9" font-size="35.5" fill="#111">Gulf</text>
<circle cx="1742.1" cy="1129.9" r="13.3" fill="#D55E00" stroke="#231F20" stroke-width="1.6"/>
<text x="1776.5" y="1142.1" font-size="35.5" fill="#111">Atlantic</text>
<circle cx="1742.1" cy="1195.8" r="13.3" fill="#0072B2" stroke="#231F20" stroke-width="1.6"/>
<text x="1776.5" y="1208.0" font-size="35.5" fill="#111">Asia</text>
<circle cx="1742.1" cy="1262" r="13.3" fill="#EFC419" stroke="#231F20" stroke-width="1.6"/>
<text x="1776.5" y="1274.2" font-size="35.5" fill="#111">North Pacific</text>
<circle cx="1742.1" cy="1327.6" r="13.3" fill="#56B4E9" stroke="#231F20" stroke-width="1.6"/>
<text x="1776.5" y="1339.8" font-size="35.5" fill="#111">North Atlantic</text>
<rect x="849.65" y="8.65" width="1195.35" height="1379.25" fill="none" stroke="#231F20" stroke-width="7.3"/>
<clipPath id="clipd"><rect x="95.2" y="1462.4" width="921.8" height="712.5999999999999"/></clipPath>
<g clip-path="url(#clipd)">
<circle cx="299.6" cy="1562.9" r="8.6" fill="#D55E00"/>
<circle cx="316.5" cy="1615.9" r="8.6" fill="#D55E00"/>
<circle cx="380.5" cy="1677.9" r="8.6" fill="#D55E00"/>
<circle cx="383.3" cy="1681.7" r="8.6" fill="#D55E00"/>
<circle cx="390.8" cy="1721.9" r="8.6" fill="#D55E00"/>
<circle cx="490" cy="1720.6" r="8.6" fill="#D55E00"/>
<circle cx="416.9" cy="1742.7" r="8.6" fill="#D55E00"/>
<circle cx="318.5" cy="1789.7" r="8.6" fill="#D55E00"/>
<circle cx="426.9" cy="1796.5" r="8.6" fill="#D55E00"/>
<circle cx="509.8" cy="1799.2" r="8.6" fill="#D55E00"/>
<circle cx="288.8" cy="1830.6" r="8.6" fill="#D55E00"/>
<circle cx="364.4" cy="1827.6" r="8.6" fill="#D55E00"/>
<circle cx="430.7" cy="1886.6" r="8.6" fill="#D55E00"/>
<circle cx="369.4" cy="1908" r="8.6" fill="#D55E00"/>
<circle cx="459.1" cy="1901.2" r="8.6" fill="#D55E00"/>
<circle cx="538.2" cy="1923.8" r="8.6" fill="#D55E00"/>
<circle cx="430.2" cy="1975" r="8.6" fill="#D55E00"/>
<circle cx="452.6" cy="2020.5" r="8.6" fill="#D55E00"/>
<circle cx="344.8" cy="1721.4" r="8.6" fill="#EFC419"/>
<circle cx="221.8" cy="1773.3" r="8.6" fill="#EFC419"/>
<circle cx="338.6" cy="1784.7" r="8.6" fill="#EFC419"/>
<circle cx="392" cy="1792.2" r="8.6" fill="#EFC419"/>
<circle cx="336.8" cy="1858.5" r="8.6" fill="#EFC419"/>
<circle cx="393.8" cy="1881.6" r="8.6" fill="#EFC419"/>
<circle cx="418.4" cy="1889.9" r="8.6" fill="#EFC419"/>
<circle cx="268.3" cy="1899.2" r="8.6" fill="#EFC419"/>
<circle cx="300.4" cy="1951.4" r="8.6" fill="#EFC419"/>
<circle cx="147" cy="2089.5" r="8.6" fill="#EFC419"/>
<circle cx="392" cy="1871.6" r="8.6" fill="#009E73"/>
<circle cx="432.2" cy="1864" r="8.6" fill="#009E73"/>
<circle cx="462.1" cy="1861.5" r="8.6" fill="#009E73"/>
<circle cx="361.2" cy="1901.4" r="8.6" fill="#009E73"/>
<circle cx="417.2" cy="1907.2" r="8.6" fill="#009E73"/>
<circle cx="469.1" cy="1900.4" r="8.6" fill="#009E73"/>
<circle cx="510.6" cy="1924.3" r="8.6" fill="#009E73"/>
<circle cx="491" cy="1939.9" r="8.6" fill="#009E73"/>
<circle cx="533.2" cy="1967" r="8.6" fill="#009E73"/>
<circle cx="501" cy="2048.6" r="8.6" fill="#009E73"/>
<circle cx="474.6" cy="1817.6" r="8.6" fill="#009E73"/>
<circle cx="594.3" cy="1986.2" r="8.6" fill="#009E73"/>
<circle cx="410.1" cy="1897.9" r="8.6" fill="#0072B2"/>
<circle cx="469.1" cy="1911" r="8.6" fill="#0072B2"/>
<circle cx="340.6" cy="1925" r="8.6" fill="#0072B2"/>
<circle cx="467.1" cy="1951.4" r="8.6" fill="#0072B2"/>
<circle cx="287.1" cy="1969.5" r="8.6" fill="#0072B2"/>
<circle cx="396.3" cy="1998.4" r="8.6" fill="#0072B2"/>
<circle cx="364.2" cy="2005.9" r="8.6" fill="#0072B2"/>
<circle cx="335.5" cy="2036" r="8.6" fill="#0072B2"/>
<circle cx="390.8" cy="2091.3" r="8.6" fill="#0072B2"/>
<circle cx="374.2" cy="1757.8" r="8.6" fill="#56B4E9"/>
<circle cx="484.2" cy="1769.6" r="8.6" fill="#56B4E9"/>
<circle cx="260.7" cy="1809" r="8.6" fill="#56B4E9"/>
<circle cx="481.7" cy="1818.1" r="8.6" fill="#56B4E9"/>
<circle cx="403.3" cy="1944.9" r="8.6" fill="#56B4E9"/>
<circle cx="513.6" cy="1929.8" r="8.6" fill="#56B4E9"/>
<circle cx="698" cy="1646.3" r="8.6" fill="#CC79A7"/>
<circle cx="747" cy="1678" r="8.6" fill="#CC79A7"/>
<circle cx="775.5" cy="1714.8" r="8.6" fill="#CC79A7"/>
<circle cx="804.3" cy="1717.4" r="8.6" fill="#CC79A7"/>
<circle cx="807.4" cy="1736.8" r="8.6" fill="#CC79A7"/>
<circle cx="753.7" cy="1794.6" r="8.6" fill="#CC79A7"/>
<circle cx="842.6" cy="1825.4" r="8.6" fill="#CC79A7"/>
<circle cx="839.3" cy="1861.7" r="8.6" fill="#CC79A7"/>
<circle cx="831.5" cy="1876.7" r="8.6" fill="#CC79A7"/>
<circle cx="963" cy="1869.5" r="8.6" fill="#CC79A7"/>
<circle cx="812.6" cy="1916.7" r="8.6" fill="#CC79A7"/>
<circle cx="886.7" cy="1965.2" r="8.6" fill="#CC79A7"/>
<circle cx="903.6" cy="1958.7" r="8.6" fill="#CC79A7"/>
<circle cx="829.7" cy="2044.5" r="8.6" fill="#CC79A7"/>
<circle cx="712.2" cy="2049.7" r="8.6" fill="#CC79A7"/>
<g fill="none" stroke="#D55E00" stroke-width="3.7" stroke-dasharray="15.3 15.3"><ellipse cx="403.8" cy="1798.8" rx="316.9" ry="141.3" transform="rotate(-108.28 403.8 1798.8)"/></g>
<g fill="none" stroke="#56B4E9" stroke-width="3.7" stroke-dasharray="15.3 15.3"><ellipse cx="428.0" cy="1833.8" rx="224.2" ry="290.3" transform="rotate(123.56 428.0 1833.8)"/></g>
<g fill="none" stroke="#EFC419" stroke-width="3.7" stroke-dasharray="15.3 15.3"><ellipse cx="328.7" cy="1852.9" rx="163.8" ry="263.8" transform="rotate(-150.30 328.7 1852.9)"/></g>
<g fill="none" stroke="#009E73" stroke-width="3.7" stroke-dasharray="15.3 15.3"><ellipse cx="468.5" cy="1911.3" rx="96.3" ry="189.7" transform="rotate(130.59 468.5 1911.3)"/></g>
<g fill="none" stroke="#0072B2" stroke-width="3.7" stroke-dasharray="15.3 15.3"><ellipse cx="384.0" cy="1975.0" rx="189.5" ry="133.2" transform="rotate(-47.92 384.0 1975.0)"/></g>
<g fill="none" stroke="#CC79A7" stroke-width="3.7" stroke-dasharray="15.3 15.3"><ellipse cx="816.2" cy="1829.6" rx="122.8" ry="320.5" transform="rotate(160.06 816.2 1829.6)"/></g>
</g>
<rect x="95.2" y="1462.4" width="921.8" height="712.5999999999999" fill="none" stroke="#333" stroke-width="3.4"/>
<line x1="95.7" y1="2175" x2="95.7" y2="2182" stroke="#333" stroke-width="3.4"/>
<text x="100.7" y="2214" font-size="36" text-anchor="middle">−4</text>
<line x1="292.4" y1="2175" x2="292.4" y2="2182" stroke="#333" stroke-width="3.4"/>
<text x="297.4" y="2214" font-size="36" text-anchor="middle">−2</text>
<line x1="489.1" y1="2175" x2="489.1" y2="2182" stroke="#333" stroke-width="3.4"/>
<text x="491.1" y="2214" font-size="36" text-anchor="middle">0</text>
<line x1="685.8" y1="2175" x2="685.8" y2="2182" stroke="#333" stroke-width="3.4"/>
<text x="687.8" y="2214" font-size="36" text-anchor="middle">2</text>
<line x1="882.5" y1="2175" x2="882.5" y2="2182" stroke="#333" stroke-width="3.4"/>
<text x="884.5" y="2214" font-size="36" text-anchor="middle">4</text>
<line x1="88.2" y1="1513.7" x2="95.2" y2="1513.7" stroke="#333" stroke-width="3.4"/>
<text x="78.2" y="1526.5" font-size="36" text-anchor="end">3</text>
<line x1="88.2" y1="1630.6" x2="95.2" y2="1630.6" stroke="#333" stroke-width="3.4"/>
<text x="78.2" y="1643.3999999999999" font-size="36" text-anchor="end">2</text>
<line x1="88.2" y1="1747.5" x2="95.2" y2="1747.5" stroke="#333" stroke-width="3.4"/>
<text x="78.2" y="1760.3" font-size="36" text-anchor="end">1</text>
<line x1="88.2" y1="1864.4" x2="95.2" y2="1864.4" stroke="#333" stroke-width="3.4"/>
<text x="78.2" y="1877.2" font-size="36" text-anchor="end">0</text>
<line x1="88.2" y1="1981.3" x2="95.2" y2="1981.3" stroke="#333" stroke-width="3.4"/>
<text x="78.2" y="1994.1" font-size="36" text-anchor="end">−1</text>
<line x1="88.2" y1="2098.2" x2="95.2" y2="2098.2" stroke="#333" stroke-width="3.4"/>
<text x="78.2" y="2111.0" font-size="36" text-anchor="end">−2</text>
<text x="555" y="1521" font-size="36" text-anchor="middle">Male</text>
<text x="556" y="2248" font-size="36.5" text-anchor="middle">PC1 (99.7%)</text>
<text transform="translate(43 1795.2) rotate(-90)" x="0" y="0" font-size="36.5" text-anchor="middle">PC2 (0.3%)</text>
<clipPath id="clipe"><rect x="1143.6" y="1462.4" width="904.4000000000001" height="712.5999999999999"/></clipPath>
<g clip-path="url(#clipe)">
<circle cx="1265.3" cy="1569.5" r="8.6" fill="#D55E00"/>
<circle cx="1324.3" cy="1629.2" r="8.6" fill="#D55E00"/>
<circle cx="1307.5" cy="1652.1" r="8.6" fill="#D55E00"/>
<circle cx="1336.8" cy="1659.1" r="8.6" fill="#D55E00"/>
<circle cx="1197.7" cy="1694.8" r="8.6" fill="#D55E00"/>
<circle cx="1404.9" cy="1700.5" r="8.6" fill="#D55E00"/>
<circle cx="1289.9" cy="1772.6" r="8.6" fill="#D55E00"/>
<circle cx="1396.1" cy="1794.7" r="8.6" fill="#D55E00"/>
<circle cx="1349.4" cy="1795.4" r="8.6" fill="#D55E00"/>
<circle cx="1431.8" cy="1809.3" r="8.6" fill="#D55E00"/>
<circle cx="1320.8" cy="1812.3" r="8.6" fill="#D55E00"/>
<circle cx="1296.7" cy="1825.1" r="8.6" fill="#D55E00"/>
<circle cx="1434.3" cy="1830.6" r="8.6" fill="#D55E00"/>
<circle cx="1503.3" cy="1833.9" r="8.6" fill="#D55E00"/>
<circle cx="1358.2" cy="1857.8" r="8.6" fill="#D55E00"/>
<circle cx="1324.3" cy="1897.9" r="8.6" fill="#D55E00"/>
<circle cx="1411.2" cy="1914.2" r="8.6" fill="#D55E00"/>
<circle cx="1422.2" cy="1968.7" r="8.6" fill="#D55E00"/>
<circle cx="1332.6" cy="1757.5" r="8.6" fill="#EFC419"/>
<circle cx="1308.7" cy="1788.4" r="8.6" fill="#EFC419"/>
<circle cx="1336.3" cy="1801" r="8.6" fill="#EFC419"/>
<circle cx="1355.9" cy="1811.5" r="8.6" fill="#EFC419"/>
<circle cx="1342.6" cy="1821.3" r="8.6" fill="#EFC419"/>
<circle cx="1362" cy="1837.7" r="8.6" fill="#EFC419"/>
<circle cx="1420.5" cy="1838.4" r="8.6" fill="#EFC419"/>
<circle cx="1423.7" cy="1909.7" r="8.6" fill="#EFC419"/>
<circle cx="1350.9" cy="2000.4" r="8.6" fill="#EFC419"/>
<circle cx="1381.5" cy="1994.6" r="8.6" fill="#EFC419"/>
<circle cx="1259" cy="1745.7" r="8.6" fill="#009E73"/>
<circle cx="1261" cy="1794.2" r="8.6" fill="#009E73"/>
<circle cx="1481.5" cy="1778.4" r="8.6" fill="#009E73"/>
<circle cx="1377.3" cy="1823.9" r="8.6" fill="#009E73"/>
<circle cx="1413.7" cy="1852.7" r="8.6" fill="#009E73"/>
<circle cx="1418.7" cy="1864.5" r="8.6" fill="#009E73"/>
<circle cx="1401.6" cy="1872.8" r="8.6" fill="#009E73"/>
<circle cx="1383.3" cy="1881.1" r="8.6" fill="#009E73"/>
<circle cx="1505.3" cy="1915.5" r="8.6" fill="#009E73"/>
<circle cx="1520.1" cy="1930.6" r="8.6" fill="#009E73"/>
<circle cx="1423.5" cy="1939.4" r="8.6" fill="#009E73"/>
<circle cx="1395.3" cy="2060.4" r="8.6" fill="#009E73"/>
<circle cx="1353.4" cy="1890.9" r="8.6" fill="#0072B2"/>
<circle cx="1448.6" cy="1911.7" r="8.6" fill="#0072B2"/>
<circle cx="1482" cy="1889.6" r="8.6" fill="#0072B2"/>
<circle cx="1536.7" cy="1913.5" r="8.6" fill="#0072B2"/>
<circle cx="1517.1" cy="1989.6" r="8.6" fill="#0072B2"/>
<circle cx="1387.8" cy="2003.4" r="8.6" fill="#0072B2"/>
<circle cx="1451.1" cy="2089.5" r="8.6" fill="#0072B2"/>
<circle cx="1601" cy="2037.7" r="8.6" fill="#0072B2"/>
<circle cx="1601" cy="1965.7" r="8.6" fill="#0072B2"/>
<circle cx="1477" cy="1784.2" r="8.6" fill="#56B4E9"/>
<circle cx="1502.6" cy="1793" r="8.6" fill="#56B4E9"/>
<circle cx="1595.5" cy="1783.4" r="8.6" fill="#56B4E9"/>
<circle cx="1526.7" cy="1846" r="8.6" fill="#56B4E9"/>
<circle cx="1416.7" cy="1945.6" r="8.6" fill="#56B4E9"/>
<circle cx="1602" cy="1877.3" r="8.6" fill="#56B4E9"/>
<circle cx="1757.7" cy="1568.7" r="8.6" fill="#CC79A7"/>
<circle cx="1901.9" cy="1602.6" r="8.6" fill="#CC79A7"/>
<circle cx="1831.5" cy="1661.6" r="8.6" fill="#CC79A7"/>
<circle cx="1888" cy="1708.1" r="8.6" fill="#CC79A7"/>
<circle cx="1692.4" cy="1735.2" r="8.6" fill="#CC79A7"/>
<circle cx="1784.8" cy="1750.3" r="8.6" fill="#CC79A7"/>
<circle cx="1723.6" cy="1770.3" r="8.6" fill="#CC79A7"/>
<circle cx="1856.2" cy="1822.6" r="8.6" fill="#CC79A7"/>
<circle cx="1841.1" cy="1870.3" r="8.6" fill="#CC79A7"/>
<circle cx="1927.2" cy="1866" r="8.6" fill="#CC79A7"/>
<circle cx="1739.4" cy="1885.9" r="8.6" fill="#CC79A7"/>
<circle cx="1750.2" cy="1895.4" r="8.6" fill="#CC79A7"/>
<circle cx="1692.4" cy="1916" r="8.6" fill="#CC79A7"/>
<circle cx="1910.1" cy="1936.1" r="8.6" fill="#CC79A7"/>
<circle cx="1717.6" cy="1995.4" r="8.6" fill="#CC79A7"/>
<g fill="none" stroke="#D55E00" stroke-width="3.7" stroke-dasharray="15.3 15.3"><ellipse cx="1354.4" cy="1781.2" rx="138.8" ry="280.0" transform="rotate(155.62 1354.4 1781.2)"/></g>
<g fill="none" stroke="#56B4E9" stroke-width="3.7" stroke-dasharray="15.3 15.3"><ellipse cx="1524.9" cy="1828.8" rx="157.8" ry="210.6" transform="rotate(56.28 1524.9 1828.8)"/></g>
<g fill="none" stroke="#EFC419" stroke-width="3.7" stroke-dasharray="15.3 15.3"><ellipse cx="1352.6" cy="1830.3" rx="68.2" ry="185.4" transform="rotate(163.31 1352.6 1830.3)"/></g>
<g fill="none" stroke="#009E73" stroke-width="3.7" stroke-dasharray="15.3 15.3"><ellipse cx="1406.2" cy="1867.8" rx="121.8" ry="231.9" transform="rotate(129.55 1406.2 1867.8)"/></g>
<g fill="none" stroke="#0072B2" stroke-width="3.7" stroke-dasharray="15.3 15.3"><ellipse cx="1491.0" cy="1959.1" rx="170.7" ry="240.9" transform="rotate(112.68 1491.0 1959.1)"/></g>
<g fill="none" stroke="#CC79A7" stroke-width="3.7" stroke-dasharray="15.3 15.3"><ellipse cx="1798.7" cy="1803.4" rx="200.0" ry="313.7" transform="rotate(-167.33 1798.7 1803.4)"/></g>
</g>
<rect x="1143.6" y="1462.4" width="904.4000000000001" height="712.5999999999999" fill="none" stroke="#333" stroke-width="3.4"/>
<line x1="1204.4" y1="2175" x2="1204.4" y2="2182" stroke="#333" stroke-width="3.4"/>
<text x="1212.4" y="2214" font-size="36" text-anchor="middle">−2.5</text>
<line x1="1490.5" y1="2175" x2="1490.5" y2="2182" stroke="#333" stroke-width="3.4"/>
<text x="1492.5" y="2214" font-size="36" text-anchor="middle">0</text>
<line x1="1779" y1="2175" x2="1779" y2="2182" stroke="#333" stroke-width="3.4"/>
<text x="1781.0" y="2214" font-size="36" text-anchor="middle">2.5</text>
<line x1="1136.6" y1="1490.1" x2="1143.6" y2="1490.1" stroke="#333" stroke-width="3.4"/>
<text x="1126.6" y="1502.8999999999999" font-size="36" text-anchor="end">1.5</text>
<line x1="1136.6" y1="1606.8" x2="1143.6" y2="1606.8" stroke="#333" stroke-width="3.4"/>
<text x="1126.6" y="1619.6" font-size="36" text-anchor="end">1.0</text>
<line x1="1136.6" y1="1723.5" x2="1143.6" y2="1723.5" stroke="#333" stroke-width="3.4"/>
<text x="1126.6" y="1736.3" font-size="36" text-anchor="end">0.5</text>
<line x1="1136.6" y1="1840.2" x2="1143.6" y2="1840.2" stroke="#333" stroke-width="3.4"/>
<text x="1126.6" y="1853.0" font-size="36" text-anchor="end">0</text>
<line x1="1136.6" y1="1956.9" x2="1143.6" y2="1956.9" stroke="#333" stroke-width="3.4"/>
<text x="1126.6" y="1969.7" font-size="36" text-anchor="end">−0.5</text>
<line x1="1136.6" y1="2073.6" x2="1143.6" y2="2073.6" stroke="#333" stroke-width="3.4"/>
<text x="1126.6" y="2086.4" font-size="36" text-anchor="end">−1.0</text>
<text x="1595" y="1521" font-size="36" text-anchor="middle">Female</text>
<text x="1596" y="2248" font-size="36.5" text-anchor="middle">PC1 (89.8%)</text>
<text transform="translate(1065 1785.5) rotate(-90)" x="0" y="0" font-size="36.5" text-anchor="middle">PC2 (10.0%)</text>
<text x="1.5" y="35.5" font-size="65" font-weight="bold">a</text>
<text x="0" y="683.5" font-size="65" font-weight="bold">b</text>
<text x="785" y="35.5" font-size="65" font-weight="bold">c</text>
<text x="1" y="1459" font-size="65" font-weight="bold">d</text>
<text x="1038" y="1459" font-size="65" font-weight="bold">e</text>
</svg>
</body></html>
